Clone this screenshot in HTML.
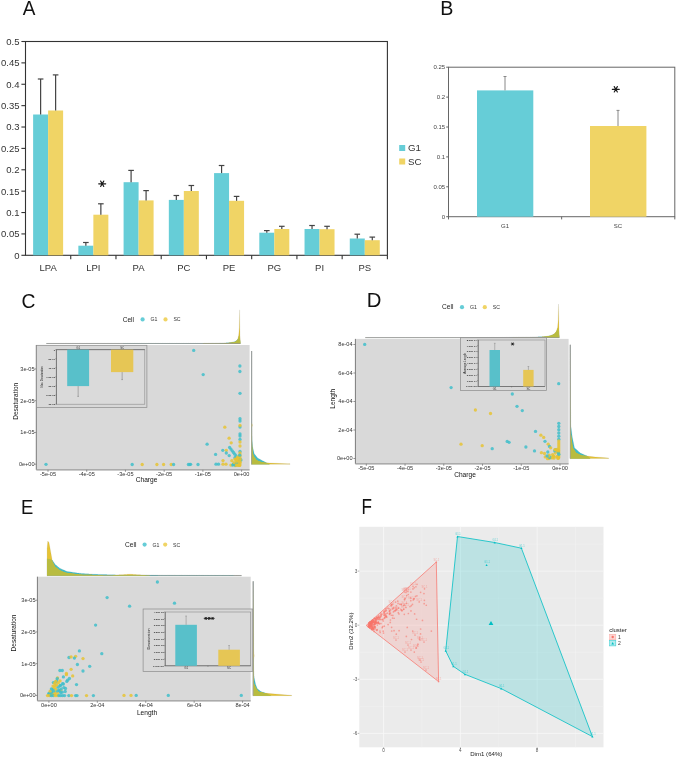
<!DOCTYPE html>
<html><head><meta charset="utf-8"><style>
html,body{margin:0;padding:0;background:#fff;}
svg{display:block;font-family:"Liberation Sans", sans-serif;will-change:transform;}
</style></head><body>
<svg width="676" height="759" viewBox="0 0 676 759">
<rect width="676" height="759" fill="#fff"/>
<text transform="translate(22.8 15.0) scale(0.95 1)" font-size="20" fill="#111">A</text>
<rect x="25.5" y="41.5" width="361.9" height="213.8" fill="none" stroke="#333" stroke-width="1.1"/>
<line x1="21.40" y1="255.30" x2="25.50" y2="255.30" stroke="#333" stroke-width="1.1" />
<text x="19.50" y="258.70" font-size="9.5" text-anchor="end" fill="#333" >0</text>
<line x1="21.40" y1="233.92" x2="25.50" y2="233.92" stroke="#333" stroke-width="1.1" />
<text x="19.50" y="237.32" font-size="9.5" text-anchor="end" fill="#333" >0.05</text>
<line x1="21.40" y1="212.54" x2="25.50" y2="212.54" stroke="#333" stroke-width="1.1" />
<text x="19.50" y="215.94" font-size="9.5" text-anchor="end" fill="#333" >0.1</text>
<line x1="21.40" y1="191.16" x2="25.50" y2="191.16" stroke="#333" stroke-width="1.1" />
<text x="19.50" y="194.56" font-size="9.5" text-anchor="end" fill="#333" >0.15</text>
<line x1="21.40" y1="169.78" x2="25.50" y2="169.78" stroke="#333" stroke-width="1.1" />
<text x="19.50" y="173.18" font-size="9.5" text-anchor="end" fill="#333" >0.2</text>
<line x1="21.40" y1="148.40" x2="25.50" y2="148.40" stroke="#333" stroke-width="1.1" />
<text x="19.50" y="151.80" font-size="9.5" text-anchor="end" fill="#333" >0.25</text>
<line x1="21.40" y1="127.02" x2="25.50" y2="127.02" stroke="#333" stroke-width="1.1" />
<text x="19.50" y="130.42" font-size="9.5" text-anchor="end" fill="#333" >0.3</text>
<line x1="21.40" y1="105.64" x2="25.50" y2="105.64" stroke="#333" stroke-width="1.1" />
<text x="19.50" y="109.04" font-size="9.5" text-anchor="end" fill="#333" >0.35</text>
<line x1="21.40" y1="84.26" x2="25.50" y2="84.26" stroke="#333" stroke-width="1.1" />
<text x="19.50" y="87.66" font-size="9.5" text-anchor="end" fill="#333" >0.4</text>
<line x1="21.40" y1="62.88" x2="25.50" y2="62.88" stroke="#333" stroke-width="1.1" />
<text x="19.50" y="66.28" font-size="9.5" text-anchor="end" fill="#333" >0.45</text>
<line x1="21.40" y1="41.50" x2="25.50" y2="41.50" stroke="#333" stroke-width="1.1" />
<text x="19.50" y="44.90" font-size="9.5" text-anchor="end" fill="#333" >0.5</text>
<line x1="70.74" y1="255.30" x2="70.74" y2="259.30" stroke="#333" stroke-width="1.1" />
<line x1="115.97" y1="255.30" x2="115.97" y2="259.30" stroke="#333" stroke-width="1.1" />
<line x1="161.21" y1="255.30" x2="161.21" y2="259.30" stroke="#333" stroke-width="1.1" />
<line x1="206.45" y1="255.30" x2="206.45" y2="259.30" stroke="#333" stroke-width="1.1" />
<line x1="251.69" y1="255.30" x2="251.69" y2="259.30" stroke="#333" stroke-width="1.1" />
<line x1="296.92" y1="255.30" x2="296.92" y2="259.30" stroke="#333" stroke-width="1.1" />
<line x1="342.16" y1="255.30" x2="342.16" y2="259.30" stroke="#333" stroke-width="1.1" />
<line x1="387.40" y1="255.30" x2="387.40" y2="259.30" stroke="#333" stroke-width="1.1" />
<rect x="33.12" y="114.50" width="15.00" height="140.80" fill="#66CDD7" />
<rect x="48.12" y="110.50" width="15.00" height="144.80" fill="#F0D465" />
<line x1="40.62" y1="79.00" x2="40.62" y2="114.50" stroke="#444" stroke-width="1.2" />
<line x1="37.82" y1="79.00" x2="43.42" y2="79.00" stroke="#444" stroke-width="1.2" />
<line x1="55.62" y1="74.90" x2="55.62" y2="110.50" stroke="#444" stroke-width="1.2" />
<line x1="52.82" y1="74.90" x2="58.42" y2="74.90" stroke="#444" stroke-width="1.2" />
<text x="48.12" y="271.30" font-size="9.5" text-anchor="middle" fill="#333" >LPA</text>
<rect x="78.36" y="245.70" width="15.00" height="9.60" fill="#66CDD7" />
<rect x="93.36" y="214.70" width="15.00" height="40.60" fill="#F0D465" />
<line x1="85.86" y1="242.50" x2="85.86" y2="245.70" stroke="#444" stroke-width="1.2" />
<line x1="83.06" y1="242.50" x2="88.66" y2="242.50" stroke="#444" stroke-width="1.2" />
<line x1="100.86" y1="203.80" x2="100.86" y2="214.70" stroke="#444" stroke-width="1.2" />
<line x1="98.06" y1="203.80" x2="103.66" y2="203.80" stroke="#444" stroke-width="1.2" />
<text x="93.36" y="271.30" font-size="9.5" text-anchor="middle" fill="#333" >LPI</text>
<rect x="123.59" y="182.20" width="15.00" height="73.10" fill="#66CDD7" />
<rect x="138.59" y="200.40" width="15.00" height="54.90" fill="#F0D465" />
<line x1="131.09" y1="170.40" x2="131.09" y2="182.20" stroke="#444" stroke-width="1.2" />
<line x1="128.29" y1="170.40" x2="133.89" y2="170.40" stroke="#444" stroke-width="1.2" />
<line x1="146.09" y1="190.60" x2="146.09" y2="200.40" stroke="#444" stroke-width="1.2" />
<line x1="143.29" y1="190.60" x2="148.89" y2="190.60" stroke="#444" stroke-width="1.2" />
<text x="138.59" y="271.30" font-size="9.5" text-anchor="middle" fill="#333" >PA</text>
<rect x="168.83" y="199.90" width="15.00" height="55.40" fill="#66CDD7" />
<rect x="183.83" y="191.00" width="15.00" height="64.30" fill="#F0D465" />
<line x1="176.33" y1="195.50" x2="176.33" y2="199.90" stroke="#444" stroke-width="1.2" />
<line x1="173.53" y1="195.50" x2="179.13" y2="195.50" stroke="#444" stroke-width="1.2" />
<line x1="191.33" y1="185.50" x2="191.33" y2="191.00" stroke="#444" stroke-width="1.2" />
<line x1="188.53" y1="185.50" x2="194.13" y2="185.50" stroke="#444" stroke-width="1.2" />
<text x="183.83" y="271.30" font-size="9.5" text-anchor="middle" fill="#333" >PC</text>
<rect x="214.07" y="173.10" width="15.00" height="82.20" fill="#66CDD7" />
<rect x="229.07" y="200.80" width="15.00" height="54.50" fill="#F0D465" />
<line x1="221.57" y1="165.50" x2="221.57" y2="173.10" stroke="#444" stroke-width="1.2" />
<line x1="218.77" y1="165.50" x2="224.37" y2="165.50" stroke="#444" stroke-width="1.2" />
<line x1="236.57" y1="196.40" x2="236.57" y2="200.80" stroke="#444" stroke-width="1.2" />
<line x1="233.77" y1="196.40" x2="239.37" y2="196.40" stroke="#444" stroke-width="1.2" />
<text x="229.07" y="271.30" font-size="9.5" text-anchor="middle" fill="#333" >PE</text>
<rect x="259.31" y="232.70" width="15.00" height="22.60" fill="#66CDD7" />
<rect x="274.31" y="229.00" width="15.00" height="26.30" fill="#F0D465" />
<line x1="266.81" y1="230.60" x2="266.81" y2="232.70" stroke="#444" stroke-width="1.2" />
<line x1="264.01" y1="230.60" x2="269.61" y2="230.60" stroke="#444" stroke-width="1.2" />
<line x1="281.81" y1="226.30" x2="281.81" y2="229.00" stroke="#444" stroke-width="1.2" />
<line x1="279.01" y1="226.30" x2="284.61" y2="226.30" stroke="#444" stroke-width="1.2" />
<text x="274.31" y="271.30" font-size="9.5" text-anchor="middle" fill="#333" >PG</text>
<rect x="304.54" y="229.00" width="15.00" height="26.30" fill="#66CDD7" />
<rect x="319.54" y="229.20" width="15.00" height="26.10" fill="#F0D465" />
<line x1="312.04" y1="225.50" x2="312.04" y2="229.00" stroke="#444" stroke-width="1.2" />
<line x1="309.24" y1="225.50" x2="314.84" y2="225.50" stroke="#444" stroke-width="1.2" />
<line x1="327.04" y1="226.30" x2="327.04" y2="229.20" stroke="#444" stroke-width="1.2" />
<line x1="324.24" y1="226.30" x2="329.84" y2="226.30" stroke="#444" stroke-width="1.2" />
<text x="319.54" y="271.30" font-size="9.5" text-anchor="middle" fill="#333" >PI</text>
<rect x="349.78" y="238.50" width="15.00" height="16.80" fill="#66CDD7" />
<rect x="364.78" y="240.20" width="15.00" height="15.10" fill="#F0D465" />
<line x1="357.28" y1="234.20" x2="357.28" y2="238.50" stroke="#444" stroke-width="1.2" />
<line x1="354.48" y1="234.20" x2="360.08" y2="234.20" stroke="#444" stroke-width="1.2" />
<line x1="372.28" y1="237.10" x2="372.28" y2="240.20" stroke="#444" stroke-width="1.2" />
<line x1="369.48" y1="237.10" x2="375.08" y2="237.10" stroke="#444" stroke-width="1.2" />
<text x="364.78" y="271.30" font-size="9.5" text-anchor="middle" fill="#333" >PS</text>
<path d="M98.70,183.80L105.70,183.80 M100.65,181.12L103.75,186.48 M103.75,181.12L100.65,186.48" stroke="#1a1a1a" stroke-width="1.15" stroke-linecap="round" fill="none"/>
<rect x="399.20" y="145.00" width="6.00" height="6.00" fill="#66CDD7" />
<rect x="399.20" y="158.50" width="6.00" height="6.00" fill="#F0D465" />
<text x="408.00" y="151.30" font-size="9.7" text-anchor="start" fill="#333" >G1</text>
<text x="408.00" y="165.00" font-size="9.7" text-anchor="start" fill="#333" >SC</text>
<text transform="translate(440.2 14.8) scale(1 1)" font-size="19.7" fill="#111">B</text>
<rect x="448.5" y="67.2" width="226.29999999999995" height="149.5" fill="none" stroke="#666" stroke-width="1"/>
<line x1="446.20" y1="216.70" x2="448.50" y2="216.70" stroke="#666" stroke-width="1" />
<text x="445.20" y="218.90" font-size="6" text-anchor="end" fill="#444" >0</text>
<line x1="446.20" y1="186.80" x2="448.50" y2="186.80" stroke="#666" stroke-width="1" />
<text x="445.20" y="189.00" font-size="6" text-anchor="end" fill="#444" >0.05</text>
<line x1="446.20" y1="156.90" x2="448.50" y2="156.90" stroke="#666" stroke-width="1" />
<text x="445.20" y="159.10" font-size="6" text-anchor="end" fill="#444" >0.1</text>
<line x1="446.20" y1="127.00" x2="448.50" y2="127.00" stroke="#666" stroke-width="1" />
<text x="445.20" y="129.20" font-size="6" text-anchor="end" fill="#444" >0.15</text>
<line x1="446.20" y1="97.10" x2="448.50" y2="97.10" stroke="#666" stroke-width="1" />
<text x="445.20" y="99.30" font-size="6" text-anchor="end" fill="#444" >0.2</text>
<line x1="446.20" y1="67.20" x2="448.50" y2="67.20" stroke="#666" stroke-width="1" />
<text x="445.20" y="69.40" font-size="6" text-anchor="end" fill="#444" >0.25</text>
<line x1="448.50" y1="216.70" x2="448.50" y2="219.40" stroke="#666" stroke-width="1" />
<line x1="561.65" y1="216.70" x2="561.65" y2="219.40" stroke="#666" stroke-width="1" />
<line x1="674.80" y1="216.70" x2="674.80" y2="219.40" stroke="#666" stroke-width="1" />
<rect x="477.00" y="90.40" width="56.30" height="126.30" fill="#66CDD7" />
<rect x="590.00" y="126.00" width="56.40" height="90.70" fill="#F0D465" />
<line x1="505.00" y1="76.50" x2="505.00" y2="90.40" stroke="#888" stroke-width="1" />
<line x1="503.50" y1="76.50" x2="506.50" y2="76.50" stroke="#888" stroke-width="1" />
<line x1="618.00" y1="110.40" x2="618.00" y2="126.00" stroke="#888" stroke-width="1" />
<line x1="616.50" y1="110.40" x2="619.50" y2="110.40" stroke="#888" stroke-width="1" />
<text x="505.00" y="227.80" font-size="6" text-anchor="middle" fill="#444" >G1</text>
<text x="618.00" y="227.80" font-size="6" text-anchor="middle" fill="#444" >SC</text>
<path d="M612.30,89.30L619.30,89.30 M614.25,86.62L617.35,91.98 M617.35,86.62L614.25,91.98" stroke="#1a1a1a" stroke-width="1.15" stroke-linecap="round" fill="none"/>
<text transform="translate(21.5 307.7) scale(0.92 1)" font-size="21" fill="#111">C</text>
<rect x="36.30" y="345.00" width="213.30" height="124.80" fill="#D9D9D9" />
<polygon points="46.40,343.50 46.40,343.40 47.10,343.40 47.80,343.40 48.50,343.40 49.20,343.40 49.90,343.40 50.60,343.40 51.30,343.40 52.00,343.40 52.70,343.40 53.40,343.40 54.10,343.40 54.80,343.40 55.50,343.40 56.20,343.40 56.90,343.40 57.60,343.40 58.30,343.40 59.00,343.40 59.70,343.40 60.40,343.40 61.10,343.40 61.80,343.39 62.50,343.39 63.20,343.39 63.90,343.39 64.60,343.39 65.30,343.39 66.00,343.39 66.70,343.39 67.40,343.39 68.10,343.39 68.80,343.39 69.50,343.39 70.20,343.39 70.90,343.39 71.60,343.39 72.30,343.39 73.00,343.39 73.70,343.39 74.40,343.39 75.10,343.39 75.80,343.39 76.50,343.39 77.20,343.39 77.90,343.39 78.60,343.39 79.30,343.39 80.00,343.39 80.70,343.39 81.40,343.39 82.10,343.39 82.80,343.39 83.50,343.39 84.20,343.39 84.90,343.39 85.60,343.39 86.30,343.39 87.00,343.39 87.70,343.39 88.40,343.39 89.10,343.39 89.80,343.39 90.50,343.39 91.20,343.39 91.90,343.39 92.60,343.38 93.30,343.38 94.00,343.38 94.70,343.38 95.40,343.38 96.10,343.38 96.80,343.38 97.50,343.38 98.20,343.38 98.90,343.38 99.60,343.38 100.30,343.38 101.00,343.38 101.70,343.38 102.40,343.38 103.10,343.38 103.80,343.38 104.50,343.38 105.20,343.38 105.90,343.38 106.60,343.38 107.30,343.38 108.00,343.38 108.70,343.38 109.40,343.38 110.10,343.38 110.80,343.38 111.50,343.38 112.20,343.38 112.90,343.38 113.60,343.38 114.30,343.38 115.00,343.38 115.70,343.38 116.40,343.38 117.10,343.38 117.80,343.38 118.50,343.38 119.20,343.38 119.90,343.38 120.60,343.38 121.30,343.38 122.00,343.38 122.70,343.38 123.40,343.37 124.10,343.37 124.80,343.37 125.50,343.37 126.20,343.37 126.90,343.37 127.60,343.37 128.30,343.37 129.00,343.37 129.70,343.37 130.40,343.37 131.10,343.37 131.80,343.37 132.50,343.37 133.20,343.37 133.90,343.37 134.60,343.37 135.30,343.37 136.00,343.37 136.70,343.37 137.40,343.37 138.10,343.37 138.80,343.37 139.50,343.37 140.20,343.37 140.90,343.37 141.60,343.37 142.30,343.37 143.00,343.37 143.70,343.37 144.40,343.37 145.10,343.37 145.80,343.37 146.50,343.37 147.20,343.37 147.90,343.37 148.60,343.37 149.30,343.37 150.00,343.37 150.70,343.37 151.40,343.37 152.10,343.37 152.80,343.37 153.50,343.37 154.20,343.36 154.90,343.36 155.60,343.36 156.30,343.36 157.00,343.36 157.70,343.36 158.40,343.36 159.10,343.36 159.80,343.36 160.50,343.36 161.20,343.36 161.90,343.36 162.60,343.36 163.30,343.36 164.00,343.36 164.70,343.36 165.40,343.36 166.10,343.36 166.80,343.36 167.50,343.36 168.20,343.36 168.90,343.36 169.60,343.36 170.30,343.36 171.00,343.36 171.70,343.36 172.40,343.36 173.10,343.36 173.80,343.36 174.50,343.36 175.20,343.36 175.90,343.36 176.60,343.36 177.30,343.36 178.00,343.36 178.70,343.36 179.40,343.36 180.10,343.36 180.80,343.36 181.50,343.36 182.20,343.36 182.90,343.36 183.60,343.36 184.30,343.36 185.00,343.35 185.70,343.35 186.40,343.35 187.10,343.35 187.80,343.35 188.50,343.35 189.20,343.35 189.90,343.35 190.60,343.35 191.30,343.35 192.00,343.35 192.70,343.35 193.40,343.35 194.10,343.35 194.80,343.35 195.50,343.35 196.20,343.35 196.90,343.35 197.60,343.35 198.30,343.35 199.00,343.35 199.70,343.35 200.00,343.35 200.40,343.35 201.10,343.34 201.80,343.33 202.50,343.32 203.20,343.31 203.90,343.31 204.60,343.30 205.30,343.29 206.00,343.28 206.70,343.27 207.40,343.27 208.10,343.26 208.80,343.25 209.50,343.24 210.20,343.23 210.90,343.23 211.60,343.22 212.30,343.21 213.00,343.20 213.70,343.19 214.40,343.19 215.10,343.18 215.80,343.17 216.50,343.16 217.20,343.15 217.90,343.15 218.60,343.14 219.30,343.13 220.00,343.12 220.70,343.11 221.40,343.11 222.00,343.10 222.10,343.09 222.80,343.05 223.50,343.01 224.20,342.96 224.90,342.92 225.60,342.88 226.30,342.83 227.00,342.79 227.70,342.74 228.40,342.70 229.10,342.66 229.80,342.61 230.00,342.60 230.50,342.50 231.20,342.36 231.90,342.22 232.60,342.08 233.30,341.94 234.00,341.80 234.50,341.70 234.70,341.59 235.00,341.42 235.40,341.20 236.10,340.80 236.80,340.41 237.00,340.30 237.50,339.53 237.50,339.53 238.20,338.46 238.50,338.00 238.70,337.13 238.90,336.25 239.30,334.50 239.60,336.64 239.60,336.64 239.90,338.79 240.00,339.50 240.10,340.50 240.30,342.50 240.40,343.50 240.40,343.50" fill="#40BECA" stroke="#4a6a6a" stroke-width="0.3" stroke-opacity="0.35"/>
<polygon points="46.40,343.50 46.40,343.45 47.10,343.45 47.80,343.45 48.50,343.45 49.20,343.45 49.90,343.45 50.60,343.45 51.30,343.45 52.00,343.45 52.70,343.45 53.40,343.45 54.10,343.45 54.80,343.45 55.50,343.45 56.20,343.45 56.90,343.45 57.60,343.45 58.30,343.45 59.00,343.45 59.70,343.45 60.40,343.45 61.10,343.45 61.80,343.44 62.50,343.44 63.20,343.44 63.90,343.44 64.60,343.44 65.30,343.44 66.00,343.44 66.70,343.44 67.40,343.44 68.10,343.44 68.80,343.44 69.50,343.44 70.20,343.44 70.90,343.44 71.60,343.44 72.30,343.44 73.00,343.44 73.70,343.44 74.40,343.44 75.10,343.44 75.80,343.44 76.50,343.44 77.20,343.44 77.90,343.44 78.60,343.44 79.30,343.44 80.00,343.44 80.70,343.44 81.40,343.44 82.10,343.44 82.80,343.44 83.50,343.44 84.20,343.44 84.90,343.44 85.60,343.44 86.30,343.44 87.00,343.44 87.70,343.44 88.40,343.44 89.10,343.44 89.80,343.44 90.50,343.44 91.20,343.44 91.90,343.44 92.60,343.43 93.30,343.43 94.00,343.43 94.70,343.43 95.40,343.43 96.10,343.43 96.80,343.43 97.50,343.43 98.20,343.43 98.90,343.43 99.60,343.43 100.30,343.43 101.00,343.43 101.70,343.43 102.40,343.43 103.10,343.43 103.80,343.43 104.50,343.43 105.20,343.43 105.90,343.43 106.60,343.43 107.30,343.43 108.00,343.43 108.70,343.43 109.40,343.43 110.10,343.43 110.80,343.43 111.50,343.43 112.20,343.43 112.90,343.43 113.60,343.43 114.30,343.43 115.00,343.43 115.70,343.43 116.40,343.43 117.10,343.43 117.80,343.43 118.50,343.43 119.20,343.43 119.90,343.43 120.60,343.43 121.30,343.43 122.00,343.43 122.70,343.43 123.40,343.42 124.10,343.42 124.80,343.42 125.50,343.42 126.20,343.42 126.90,343.42 127.60,343.42 128.30,343.42 129.00,343.42 129.70,343.42 130.40,343.42 131.10,343.42 131.80,343.42 132.50,343.42 133.20,343.42 133.90,343.42 134.60,343.42 135.30,343.42 136.00,343.42 136.70,343.42 137.40,343.42 138.10,343.42 138.80,343.42 139.50,343.42 140.20,343.42 140.90,343.42 141.60,343.42 142.30,343.42 143.00,343.42 143.70,343.42 144.40,343.42 145.10,343.42 145.80,343.42 146.50,343.42 147.20,343.42 147.90,343.42 148.60,343.42 149.30,343.42 150.00,343.42 150.70,343.42 151.40,343.42 152.10,343.42 152.80,343.42 153.50,343.42 154.20,343.41 154.90,343.41 155.60,343.41 156.30,343.41 157.00,343.41 157.70,343.41 158.40,343.41 159.10,343.41 159.80,343.41 160.50,343.41 161.20,343.41 161.90,343.41 162.60,343.41 163.30,343.41 164.00,343.41 164.70,343.41 165.40,343.41 166.10,343.41 166.80,343.41 167.50,343.41 168.20,343.41 168.90,343.41 169.60,343.41 170.30,343.41 171.00,343.41 171.70,343.41 172.40,343.41 173.10,343.41 173.80,343.41 174.50,343.41 175.20,343.41 175.90,343.41 176.60,343.41 177.30,343.41 178.00,343.41 178.70,343.41 179.40,343.41 180.10,343.41 180.80,343.41 181.50,343.41 182.20,343.41 182.90,343.41 183.60,343.41 184.30,343.41 185.00,343.40 185.70,343.40 186.40,343.40 187.10,343.40 187.80,343.40 188.50,343.40 189.20,343.40 189.90,343.40 190.60,343.40 191.30,343.40 192.00,343.40 192.70,343.40 193.40,343.40 194.10,343.40 194.80,343.40 195.50,343.40 196.20,343.40 196.90,343.40 197.60,343.40 198.30,343.40 199.00,343.40 199.70,343.40 200.00,343.40 200.40,343.40 201.10,343.39 201.80,343.38 202.50,343.38 203.20,343.37 203.90,343.36 204.60,343.36 205.30,343.35 206.00,343.35 206.70,343.34 207.40,343.33 208.10,343.33 208.80,343.32 209.50,343.31 210.20,343.31 210.90,343.30 211.60,343.29 212.30,343.29 213.00,343.28 213.70,343.28 214.40,343.27 215.10,343.26 215.80,343.26 216.50,343.25 217.20,343.24 217.90,343.24 218.60,343.23 219.30,343.22 220.00,343.22 220.70,343.21 221.40,343.21 222.00,343.20 222.10,343.20 222.80,343.16 223.50,343.13 224.20,343.09 224.90,343.06 225.60,343.02 226.30,342.99 227.00,342.95 227.70,342.92 228.40,342.88 229.10,342.85 229.80,342.81 230.00,342.80 230.50,342.72 231.20,342.61 231.90,342.50 232.60,342.38 233.30,342.27 234.00,342.16 234.50,342.08 234.70,342.05 235.00,342.00 235.40,341.68 236.10,341.12 236.80,340.56 237.00,340.40 237.50,340.00 237.50,340.00 238.20,337.38 238.50,336.25 238.70,335.50 238.90,332.83 239.30,327.50 239.60,309.80 239.60,309.80 239.90,329.50 240.00,334.00 240.10,338.50 240.30,341.83 240.40,343.50 240.40,343.50" fill="#E6C334" stroke="#6a6a4a" stroke-width="0.3" stroke-opacity="0.35"/>
<polygon points="46.40,343.50 46.40,343.45 47.10,343.45 47.80,343.45 48.50,343.45 49.20,343.45 49.90,343.45 50.60,343.45 51.30,343.45 52.00,343.45 52.70,343.45 53.40,343.45 54.10,343.45 54.80,343.45 55.50,343.45 56.20,343.45 56.90,343.45 57.60,343.45 58.30,343.45 59.00,343.45 59.70,343.45 60.40,343.45 61.10,343.45 61.80,343.44 62.50,343.44 63.20,343.44 63.90,343.44 64.60,343.44 65.30,343.44 66.00,343.44 66.70,343.44 67.40,343.44 68.10,343.44 68.80,343.44 69.50,343.44 70.20,343.44 70.90,343.44 71.60,343.44 72.30,343.44 73.00,343.44 73.70,343.44 74.40,343.44 75.10,343.44 75.80,343.44 76.50,343.44 77.20,343.44 77.90,343.44 78.60,343.44 79.30,343.44 80.00,343.44 80.70,343.44 81.40,343.44 82.10,343.44 82.80,343.44 83.50,343.44 84.20,343.44 84.90,343.44 85.60,343.44 86.30,343.44 87.00,343.44 87.70,343.44 88.40,343.44 89.10,343.44 89.80,343.44 90.50,343.44 91.20,343.44 91.90,343.44 92.60,343.43 93.30,343.43 94.00,343.43 94.70,343.43 95.40,343.43 96.10,343.43 96.80,343.43 97.50,343.43 98.20,343.43 98.90,343.43 99.60,343.43 100.30,343.43 101.00,343.43 101.70,343.43 102.40,343.43 103.10,343.43 103.80,343.43 104.50,343.43 105.20,343.43 105.90,343.43 106.60,343.43 107.30,343.43 108.00,343.43 108.70,343.43 109.40,343.43 110.10,343.43 110.80,343.43 111.50,343.43 112.20,343.43 112.90,343.43 113.60,343.43 114.30,343.43 115.00,343.43 115.70,343.43 116.40,343.43 117.10,343.43 117.80,343.43 118.50,343.43 119.20,343.43 119.90,343.43 120.60,343.43 121.30,343.43 122.00,343.43 122.70,343.43 123.40,343.42 124.10,343.42 124.80,343.42 125.50,343.42 126.20,343.42 126.90,343.42 127.60,343.42 128.30,343.42 129.00,343.42 129.70,343.42 130.40,343.42 131.10,343.42 131.80,343.42 132.50,343.42 133.20,343.42 133.90,343.42 134.60,343.42 135.30,343.42 136.00,343.42 136.70,343.42 137.40,343.42 138.10,343.42 138.80,343.42 139.50,343.42 140.20,343.42 140.90,343.42 141.60,343.42 142.30,343.42 143.00,343.42 143.70,343.42 144.40,343.42 145.10,343.42 145.80,343.42 146.50,343.42 147.20,343.42 147.90,343.42 148.60,343.42 149.30,343.42 150.00,343.42 150.70,343.42 151.40,343.42 152.10,343.42 152.80,343.42 153.50,343.42 154.20,343.41 154.90,343.41 155.60,343.41 156.30,343.41 157.00,343.41 157.70,343.41 158.40,343.41 159.10,343.41 159.80,343.41 160.50,343.41 161.20,343.41 161.90,343.41 162.60,343.41 163.30,343.41 164.00,343.41 164.70,343.41 165.40,343.41 166.10,343.41 166.80,343.41 167.50,343.41 168.20,343.41 168.90,343.41 169.60,343.41 170.30,343.41 171.00,343.41 171.70,343.41 172.40,343.41 173.10,343.41 173.80,343.41 174.50,343.41 175.20,343.41 175.90,343.41 176.60,343.41 177.30,343.41 178.00,343.41 178.70,343.41 179.40,343.41 180.10,343.41 180.80,343.41 181.50,343.41 182.20,343.41 182.90,343.41 183.60,343.41 184.30,343.41 185.00,343.40 185.70,343.40 186.40,343.40 187.10,343.40 187.80,343.40 188.50,343.40 189.20,343.40 189.90,343.40 190.60,343.40 191.30,343.40 192.00,343.40 192.70,343.40 193.40,343.40 194.10,343.40 194.80,343.40 195.50,343.40 196.20,343.40 196.90,343.40 197.60,343.40 198.30,343.40 199.00,343.40 199.70,343.40 200.00,343.40 200.40,343.40 201.10,343.39 201.80,343.38 202.50,343.38 203.20,343.37 203.90,343.36 204.60,343.36 205.30,343.35 206.00,343.35 206.70,343.34 207.40,343.33 208.10,343.33 208.80,343.32 209.50,343.31 210.20,343.31 210.90,343.30 211.60,343.29 212.30,343.29 213.00,343.28 213.70,343.28 214.40,343.27 215.10,343.26 215.80,343.26 216.50,343.25 217.20,343.24 217.90,343.24 218.60,343.23 219.30,343.22 220.00,343.22 220.70,343.21 221.40,343.21 222.00,343.20 222.10,343.20 222.80,343.16 223.50,343.13 224.20,343.09 224.90,343.06 225.60,343.02 226.30,342.99 227.00,342.95 227.70,342.92 228.40,342.88 229.10,342.85 229.80,342.81 230.00,342.80 230.50,342.72 231.20,342.61 231.90,342.50 232.60,342.38 233.30,342.27 234.00,342.16 234.50,342.08 234.70,342.05 235.00,342.00 235.40,341.68 236.10,341.12 236.80,340.56 237.00,340.40 237.50,340.00 237.50,340.00 238.20,338.46 238.50,338.00 238.70,337.13 238.90,336.25 239.30,334.50 239.60,336.64 239.60,336.64 239.90,338.79 240.00,339.50 240.10,340.50 240.30,342.50 240.40,343.50 240.40,343.50" fill="#B8BC40"/>
<line x1="46.40" y1="343.50" x2="240.40" y2="343.50" stroke="#8a8a8a" stroke-width="0.6" />
<line x1="251.60" y1="351.00" x2="251.60" y2="464.30" stroke="#a0a0a0" stroke-width="0.7" />
<polygon points="251.60,351.00 251.70,351.00 251.70,351.70 251.70,352.40 251.70,353.10 251.70,353.80 251.71,354.50 251.71,355.20 251.71,355.90 251.71,356.60 251.71,357.30 251.71,358.00 251.71,358.70 251.71,359.40 251.71,360.10 251.71,360.80 251.72,361.50 251.72,362.20 251.72,362.90 251.72,363.60 251.72,364.30 251.72,365.00 251.72,365.70 251.72,366.40 251.72,367.10 251.72,367.80 251.73,368.50 251.73,369.20 251.73,369.90 251.73,370.60 251.73,371.30 251.73,372.00 251.73,372.70 251.73,373.40 251.73,374.10 251.73,374.80 251.74,375.50 251.74,376.20 251.74,376.90 251.74,377.60 251.74,378.30 251.74,379.00 251.74,379.70 251.74,380.40 251.74,381.10 251.74,381.80 251.75,382.50 251.75,383.20 251.75,383.90 251.75,384.60 251.75,385.30 251.75,386.00 251.75,386.70 251.75,387.40 251.75,388.10 251.75,388.80 251.76,389.50 251.76,390.20 251.76,390.90 251.76,391.60 251.76,392.30 251.76,393.00 251.76,393.70 251.76,394.40 251.76,395.10 251.76,395.80 251.77,396.50 251.77,397.20 251.77,397.90 251.77,398.60 251.77,399.30 251.77,400.00 251.77,400.70 251.77,401.40 251.77,402.10 251.78,402.80 251.78,403.50 251.78,404.20 251.78,404.90 251.78,405.60 251.78,406.30 251.78,407.00 251.78,407.70 251.78,408.40 251.78,409.10 251.79,409.80 251.79,410.50 251.79,411.20 251.79,411.90 251.79,412.60 251.79,413.30 251.79,414.00 251.79,414.70 251.79,415.40 251.79,416.10 251.80,416.80 251.80,417.50 251.80,418.20 251.80,418.90 251.80,419.60 251.80,420.00 251.80,420.30 251.81,421.00 251.83,421.70 251.84,422.40 251.84,423.00 251.85,423.10 251.86,423.80 251.87,424.50 251.88,425.00 251.88,425.20 251.89,425.90 251.90,426.60 251.91,427.30 251.92,428.00 251.92,428.00 251.93,428.70 251.94,429.40 251.95,430.10 251.96,430.80 251.97,431.50 251.98,432.20 251.99,432.90 252.00,433.60 252.01,434.30 252.02,435.00 252.04,435.70 252.05,436.40 252.06,437.10 252.07,437.80 252.08,438.50 252.09,439.20 252.10,439.90 252.10,440.00 252.15,440.60 252.20,441.30 252.25,442.00 252.30,442.70 252.36,443.40 252.41,444.10 252.46,444.80 252.48,445.00 252.52,445.50 252.57,446.20 252.60,446.60 252.67,446.90 252.84,447.60 253.00,448.30 253.17,449.00 253.33,449.70 253.50,450.40 253.66,451.10 253.83,451.80 253.88,452.00 253.99,452.50 254.16,453.20 254.30,453.80 254.38,453.90 254.95,454.60 255.53,455.30 256.10,456.00 256.10,456.00 256.67,456.70 257.25,457.40 257.82,458.10 257.90,458.20 259.04,458.80 260.36,459.50 261.31,460.00 261.69,460.20 263.01,460.90 263.20,461.00 264.28,461.60 265.00,462.00 265.54,462.30 266.44,462.80 266.80,463.00 266.80,463.00 267.45,463.30 268.31,463.70 268.52,463.80 269.60,464.30 251.60,464.30" fill="#40BECA" stroke="#4a6a6a" stroke-width="0.3" stroke-opacity="0.35"/>
<polygon points="251.60,351.00 251.60,351.00 251.60,351.70 251.60,352.40 251.60,353.10 251.60,353.80 251.60,354.50 251.60,355.20 251.60,355.90 251.60,356.60 251.60,357.30 251.60,358.00 251.60,358.70 251.60,359.40 251.60,360.10 251.60,360.80 251.60,361.50 251.60,362.20 251.60,362.90 251.60,363.60 251.60,364.30 251.60,365.00 251.60,365.70 251.60,366.40 251.60,367.10 251.60,367.80 251.60,368.50 251.60,369.20 251.60,369.90 251.60,370.60 251.60,371.30 251.60,372.00 251.60,372.70 251.60,373.40 251.60,374.10 251.60,374.80 251.60,375.50 251.60,376.20 251.60,376.90 251.60,377.60 251.60,378.30 251.60,379.00 251.60,379.70 251.60,380.40 251.60,381.10 251.60,381.80 251.60,382.50 251.60,383.20 251.60,383.90 251.60,384.60 251.60,385.30 251.60,386.00 251.60,386.70 251.60,387.40 251.60,388.10 251.60,388.80 251.60,389.50 251.60,390.20 251.60,390.90 251.60,391.60 251.60,392.30 251.60,393.00 251.60,393.70 251.60,394.40 251.60,395.10 251.60,395.80 251.60,396.50 251.60,397.20 251.60,397.90 251.60,398.60 251.60,399.30 251.60,400.00 251.60,400.70 251.60,401.40 251.60,402.10 251.60,402.80 251.60,403.50 251.60,404.20 251.60,404.90 251.60,405.60 251.60,406.30 251.60,407.00 251.60,407.70 251.60,408.40 251.60,409.10 251.60,409.80 251.60,410.50 251.60,411.20 251.60,411.90 251.60,412.60 251.60,413.30 251.60,414.00 251.60,414.70 251.60,415.40 251.60,416.10 251.60,416.80 251.60,417.50 251.60,418.20 251.60,418.90 251.60,419.60 251.60,420.00 251.60,420.30 251.60,421.00 251.60,421.70 251.60,422.40 251.60,423.00 251.64,423.10 251.92,423.80 252.20,424.50 252.40,425.00 252.35,425.20 252.19,425.90 252.03,426.60 251.86,427.30 251.70,428.00 251.70,428.00 251.72,428.70 251.73,429.40 251.75,430.10 251.77,430.80 251.78,431.50 251.80,432.20 251.82,432.90 251.83,433.60 251.85,434.30 251.86,435.00 251.88,435.70 251.90,436.40 251.91,437.10 251.93,437.80 251.95,438.50 251.96,439.20 251.98,439.90 251.98,440.00 252.00,440.60 252.01,441.30 252.03,442.00 252.05,442.70 252.06,443.40 252.08,444.10 252.10,444.80 252.10,445.00 252.14,445.50 252.19,446.20 252.21,446.60 252.24,446.90 252.29,447.60 252.34,448.30 252.39,449.00 252.44,449.70 252.49,450.40 252.54,451.10 252.59,451.80 252.60,452.00 252.72,452.50 252.90,453.20 253.05,453.80 253.07,453.90 253.25,454.60 253.42,455.30 253.60,456.00 253.60,456.00 254.11,456.70 254.61,457.40 255.12,458.10 255.19,458.20 255.63,458.80 256.14,459.50 256.50,460.00 256.95,460.20 258.52,460.90 258.75,461.00 260.10,461.60 261.00,462.00 262.72,462.30 265.60,462.80 270.00,463.00 270.00,463.00 276.60,463.30 287.40,463.70 290.10,463.80 290.10,464.30 251.60,464.30" fill="#E6C334" stroke="#6a6a4a" stroke-width="0.3" stroke-opacity="0.35"/>
<polygon points="251.60,351.00 251.60,351.00 251.60,351.70 251.60,352.40 251.60,353.10 251.60,353.80 251.60,354.50 251.60,355.20 251.60,355.90 251.60,356.60 251.60,357.30 251.60,358.00 251.60,358.70 251.60,359.40 251.60,360.10 251.60,360.80 251.60,361.50 251.60,362.20 251.60,362.90 251.60,363.60 251.60,364.30 251.60,365.00 251.60,365.70 251.60,366.40 251.60,367.10 251.60,367.80 251.60,368.50 251.60,369.20 251.60,369.90 251.60,370.60 251.60,371.30 251.60,372.00 251.60,372.70 251.60,373.40 251.60,374.10 251.60,374.80 251.60,375.50 251.60,376.20 251.60,376.90 251.60,377.60 251.60,378.30 251.60,379.00 251.60,379.70 251.60,380.40 251.60,381.10 251.60,381.80 251.60,382.50 251.60,383.20 251.60,383.90 251.60,384.60 251.60,385.30 251.60,386.00 251.60,386.70 251.60,387.40 251.60,388.10 251.60,388.80 251.60,389.50 251.60,390.20 251.60,390.90 251.60,391.60 251.60,392.30 251.60,393.00 251.60,393.70 251.60,394.40 251.60,395.10 251.60,395.80 251.60,396.50 251.60,397.20 251.60,397.90 251.60,398.60 251.60,399.30 251.60,400.00 251.60,400.70 251.60,401.40 251.60,402.10 251.60,402.80 251.60,403.50 251.60,404.20 251.60,404.90 251.60,405.60 251.60,406.30 251.60,407.00 251.60,407.70 251.60,408.40 251.60,409.10 251.60,409.80 251.60,410.50 251.60,411.20 251.60,411.90 251.60,412.60 251.60,413.30 251.60,414.00 251.60,414.70 251.60,415.40 251.60,416.10 251.60,416.80 251.60,417.50 251.60,418.20 251.60,418.90 251.60,419.60 251.60,420.00 251.60,420.30 251.60,421.00 251.60,421.70 251.60,422.40 251.60,423.00 251.64,423.10 251.86,423.80 251.87,424.50 251.88,425.00 251.88,425.20 251.89,425.90 251.90,426.60 251.86,427.30 251.70,428.00 251.70,428.00 251.72,428.70 251.73,429.40 251.75,430.10 251.77,430.80 251.78,431.50 251.80,432.20 251.82,432.90 251.83,433.60 251.85,434.30 251.86,435.00 251.88,435.70 251.90,436.40 251.91,437.10 251.93,437.80 251.95,438.50 251.96,439.20 251.98,439.90 251.98,440.00 252.00,440.60 252.01,441.30 252.03,442.00 252.05,442.70 252.06,443.40 252.08,444.10 252.10,444.80 252.10,445.00 252.14,445.50 252.19,446.20 252.21,446.60 252.24,446.90 252.29,447.60 252.34,448.30 252.39,449.00 252.44,449.70 252.49,450.40 252.54,451.10 252.59,451.80 252.60,452.00 252.72,452.50 252.90,453.20 253.05,453.80 253.07,453.90 253.25,454.60 253.42,455.30 253.60,456.00 253.60,456.00 254.11,456.70 254.61,457.40 255.12,458.10 255.19,458.20 255.63,458.80 256.14,459.50 256.50,460.00 256.95,460.20 258.52,460.90 258.75,461.00 260.10,461.60 261.00,462.00 262.72,462.30 265.60,462.80 266.80,463.00 266.80,463.00 267.45,463.30 268.31,463.70 268.52,463.80 269.60,464.30 251.60,464.30" fill="#B8BC40"/>
<line x1="251.60" y1="351.00" x2="251.60" y2="464.30" stroke="#a0a0a0" stroke-width="0.7"/>
<line x1="36.30" y1="345.00" x2="36.30" y2="469.80" stroke="#7a7a7a" stroke-width="1.0" />
<line x1="36.30" y1="469.80" x2="249.60" y2="469.80" stroke="#9a9a9a" stroke-width="1.2" />
<line x1="34.30" y1="464.20" x2="36.30" y2="464.20" stroke="#7a7a7a" stroke-width="0.8" />
<text x="34.60" y="466.10" font-size="5.6" text-anchor="end" fill="#333" >0e+00</text>
<line x1="34.30" y1="432.45" x2="36.30" y2="432.45" stroke="#7a7a7a" stroke-width="0.8" />
<text x="34.60" y="434.35" font-size="5.6" text-anchor="end" fill="#333" >1e-05</text>
<line x1="34.30" y1="400.70" x2="36.30" y2="400.70" stroke="#7a7a7a" stroke-width="0.8" />
<text x="34.60" y="402.60" font-size="5.6" text-anchor="end" fill="#333" >2e-05</text>
<line x1="34.30" y1="368.95" x2="36.30" y2="368.95" stroke="#7a7a7a" stroke-width="0.8" />
<text x="34.60" y="370.85" font-size="5.6" text-anchor="end" fill="#333" >3e-05</text>
<line x1="48.00" y1="469.80" x2="48.00" y2="471.80" stroke="#7a7a7a" stroke-width="0.8" />
<text x="48.00" y="476.20" font-size="5.6" text-anchor="middle" fill="#333" >-5e-05</text>
<line x1="86.72" y1="469.80" x2="86.72" y2="471.80" stroke="#7a7a7a" stroke-width="0.8" />
<text x="86.72" y="476.20" font-size="5.6" text-anchor="middle" fill="#333" >-4e-05</text>
<line x1="125.44" y1="469.80" x2="125.44" y2="471.80" stroke="#7a7a7a" stroke-width="0.8" />
<text x="125.44" y="476.20" font-size="5.6" text-anchor="middle" fill="#333" >-3e-05</text>
<line x1="164.16" y1="469.80" x2="164.16" y2="471.80" stroke="#7a7a7a" stroke-width="0.8" />
<text x="164.16" y="476.20" font-size="5.6" text-anchor="middle" fill="#333" >-2e-05</text>
<line x1="202.88" y1="469.80" x2="202.88" y2="471.80" stroke="#7a7a7a" stroke-width="0.8" />
<text x="202.88" y="476.20" font-size="5.6" text-anchor="middle" fill="#333" >-1e-05</text>
<line x1="241.60" y1="469.80" x2="241.60" y2="471.80" stroke="#7a7a7a" stroke-width="0.8" />
<text x="241.60" y="476.20" font-size="5.6" text-anchor="middle" fill="#333" >0e+00</text>
<text x="146.60" y="481.80" font-size="6.6" text-anchor="middle" fill="#111" >Charge</text>
<text x="17.80" y="401.30" font-size="6.5" text-anchor="middle" fill="#111" transform="rotate(-90 17.8 401.3)">Desaturation</text>
<text x="122.70" y="321.60" font-size="6.6" text-anchor="start" fill="#222" >Cell</text>
<circle cx="142.60" cy="319.40" r="2.1" fill="#66CDD7" />
<text x="150.50" y="321.30" font-size="5.2" text-anchor="start" fill="#333" >G1</text>
<circle cx="165.50" cy="319.40" r="2.1" fill="#F0D465" />
<text x="173.40" y="321.30" font-size="5.2" text-anchor="start" fill="#333" >SC</text>
<circle cx="193.70" cy="350.40" r="1.65" fill="#40BECA" fill-opacity="0.85"/>
<circle cx="203.20" cy="374.60" r="1.65" fill="#40BECA" fill-opacity="0.85"/>
<circle cx="239.90" cy="366.00" r="1.65" fill="#40BECA" fill-opacity="0.85"/>
<circle cx="239.90" cy="371.50" r="1.65" fill="#40BECA" fill-opacity="0.85"/>
<circle cx="240.00" cy="393.30" r="1.65" fill="#40BECA" fill-opacity="0.85"/>
<circle cx="46.00" cy="464.30" r="1.65" fill="#40BECA" fill-opacity="0.85"/>
<circle cx="132.20" cy="464.50" r="1.65" fill="#40BECA" fill-opacity="0.85"/>
<circle cx="142.20" cy="464.50" r="1.65" fill="#E6C334" fill-opacity="0.85"/>
<circle cx="156.90" cy="464.50" r="1.65" fill="#E6C334" fill-opacity="0.85"/>
<circle cx="163.60" cy="464.50" r="1.65" fill="#E6C334" fill-opacity="0.85"/>
<circle cx="171.20" cy="464.50" r="1.65" fill="#E6C334" fill-opacity="0.85"/>
<circle cx="173.60" cy="464.50" r="1.65" fill="#40BECA" fill-opacity="0.85"/>
<circle cx="188.40" cy="464.50" r="1.65" fill="#40BECA" fill-opacity="0.85"/>
<circle cx="189.80" cy="464.50" r="1.65" fill="#40BECA" fill-opacity="0.85"/>
<circle cx="198.00" cy="464.50" r="1.65" fill="#40BECA" fill-opacity="0.85"/>
<circle cx="190.60" cy="464.30" r="1.65" fill="#40BECA" fill-opacity="0.85"/>
<circle cx="216.00" cy="464.20" r="1.65" fill="#40BECA" fill-opacity="0.85"/>
<circle cx="218.50" cy="464.20" r="1.65" fill="#40BECA" fill-opacity="0.85"/>
<circle cx="223.00" cy="464.20" r="1.65" fill="#E6C334" fill-opacity="0.85"/>
<circle cx="226.00" cy="464.20" r="1.65" fill="#E6C334" fill-opacity="0.85"/>
<circle cx="224.80" cy="427.20" r="1.65" fill="#E6C334" fill-opacity="0.85"/>
<circle cx="229.10" cy="438.20" r="1.65" fill="#E6C334" fill-opacity="0.85"/>
<circle cx="231.20" cy="442.80" r="1.65" fill="#E6C334" fill-opacity="0.85"/>
<circle cx="207.10" cy="444.20" r="1.65" fill="#40BECA" fill-opacity="0.85"/>
<circle cx="222.80" cy="450.30" r="1.65" fill="#40BECA" fill-opacity="0.85"/>
<circle cx="226.30" cy="450.30" r="1.65" fill="#E6C334" fill-opacity="0.85"/>
<circle cx="226.30" cy="453.00" r="1.65" fill="#40BECA" fill-opacity="0.85"/>
<circle cx="215.60" cy="454.40" r="1.65" fill="#40BECA" fill-opacity="0.85"/>
<circle cx="229.20" cy="455.60" r="1.65" fill="#40BECA" fill-opacity="0.85"/>
<circle cx="223.00" cy="460.60" r="1.65" fill="#E6C334" fill-opacity="0.85"/>
<circle cx="240.00" cy="418.75" r="1.65" fill="#40BECA" fill-opacity="0.85"/>
<circle cx="240.00" cy="421.00" r="1.65" fill="#40BECA" fill-opacity="0.85"/>
<circle cx="240.00" cy="427.00" r="1.65" fill="#40BECA" fill-opacity="0.85"/>
<circle cx="240.00" cy="434.00" r="1.65" fill="#40BECA" fill-opacity="0.85"/>
<circle cx="240.00" cy="436.00" r="1.65" fill="#40BECA" fill-opacity="0.85"/>
<circle cx="240.00" cy="439.40" r="1.65" fill="#40BECA" fill-opacity="0.85"/>
<circle cx="240.00" cy="451.40" r="1.65" fill="#40BECA" fill-opacity="0.85"/>
<circle cx="240.00" cy="425.50" r="1.65" fill="#E6C334" fill-opacity="0.85"/>
<circle cx="240.00" cy="442.00" r="1.65" fill="#E6C334" fill-opacity="0.85"/>
<circle cx="240.00" cy="446.00" r="1.65" fill="#E6C334" fill-opacity="0.85"/>
<circle cx="229.60" cy="447.40" r="1.65" fill="#40BECA" fill-opacity="0.85"/>
<circle cx="230.90" cy="449.10" r="1.65" fill="#40BECA" fill-opacity="0.85"/>
<circle cx="232.20" cy="450.80" r="1.65" fill="#40BECA" fill-opacity="0.85"/>
<circle cx="233.50" cy="452.50" r="1.65" fill="#40BECA" fill-opacity="0.85"/>
<circle cx="234.80" cy="454.20" r="1.65" fill="#40BECA" fill-opacity="0.85"/>
<circle cx="236.10" cy="455.90" r="1.65" fill="#40BECA" fill-opacity="0.85"/>
<circle cx="240.00" cy="453.00" r="1.65" fill="#E6C334" fill-opacity="0.85"/>
<circle cx="240.00" cy="455.00" r="1.65" fill="#E6C334" fill-opacity="0.85"/>
<circle cx="240.00" cy="457.00" r="1.65" fill="#E6C334" fill-opacity="0.85"/>
<circle cx="240.00" cy="459.00" r="1.65" fill="#E6C334" fill-opacity="0.85"/>
<circle cx="240.00" cy="461.00" r="1.65" fill="#E6C334" fill-opacity="0.85"/>
<circle cx="240.00" cy="463.00" r="1.65" fill="#E6C334" fill-opacity="0.85"/>
<circle cx="240.00" cy="465.00" r="1.65" fill="#E6C334" fill-opacity="0.85"/>
<circle cx="231.86" cy="460.71" r="1.65" fill="#E6C334" fill-opacity="0.85"/>
<circle cx="239.99" cy="459.98" r="1.65" fill="#E6C334" fill-opacity="0.85"/>
<circle cx="236.27" cy="464.54" r="1.65" fill="#40BECA" fill-opacity="0.85"/>
<circle cx="240.95" cy="459.94" r="1.65" fill="#40BECA" fill-opacity="0.85"/>
<circle cx="233.77" cy="464.04" r="1.65" fill="#E6C334" fill-opacity="0.85"/>
<circle cx="236.62" cy="464.11" r="1.65" fill="#40BECA" fill-opacity="0.85"/>
<circle cx="237.90" cy="462.05" r="1.65" fill="#E6C334" fill-opacity="0.85"/>
<circle cx="230.91" cy="465.05" r="1.65" fill="#E6C334" fill-opacity="0.85"/>
<circle cx="239.39" cy="459.96" r="1.65" fill="#40BECA" fill-opacity="0.85"/>
<circle cx="237.57" cy="464.67" r="1.65" fill="#40BECA" fill-opacity="0.85"/>
<circle cx="237.74" cy="461.06" r="1.65" fill="#E6C334" fill-opacity="0.85"/>
<circle cx="239.55" cy="456.02" r="1.65" fill="#E6C334" fill-opacity="0.85"/>
<circle cx="234.94" cy="457.71" r="1.65" fill="#40BECA" fill-opacity="0.85"/>
<circle cx="238.35" cy="463.98" r="1.65" fill="#40BECA" fill-opacity="0.85"/>
<circle cx="235.09" cy="459.05" r="1.65" fill="#E6C334" fill-opacity="0.85"/>
<circle cx="235.41" cy="459.28" r="1.65" fill="#E6C334" fill-opacity="0.85"/>
<circle cx="239.85" cy="462.16" r="1.65" fill="#E6C334" fill-opacity="0.85"/>
<circle cx="239.28" cy="465.41" r="1.65" fill="#E6C334" fill-opacity="0.85"/>
<circle cx="237.38" cy="458.43" r="1.65" fill="#E6C334" fill-opacity="0.85"/>
<circle cx="237.57" cy="457.22" r="1.65" fill="#E6C334" fill-opacity="0.85"/>
<circle cx="239.25" cy="465.39" r="1.65" fill="#E6C334" fill-opacity="0.85"/>
<circle cx="239.77" cy="455.21" r="1.65" fill="#40BECA" fill-opacity="0.85"/>
<circle cx="238.23" cy="464.16" r="1.65" fill="#E6C334" fill-opacity="0.85"/>
<circle cx="236.26" cy="463.00" r="1.65" fill="#40BECA" fill-opacity="0.85"/>
<circle cx="237.62" cy="458.48" r="1.65" fill="#E6C334" fill-opacity="0.85"/>
<circle cx="235.07" cy="465.48" r="1.65" fill="#E6C334" fill-opacity="0.85"/>
<circle cx="235.43" cy="464.96" r="1.65" fill="#40BECA" fill-opacity="0.85"/>
<circle cx="237.28" cy="465.29" r="1.65" fill="#E6C334" fill-opacity="0.85"/>
<circle cx="232.77" cy="465.07" r="1.65" fill="#40BECA" fill-opacity="0.85"/>
<circle cx="233.52" cy="464.13" r="1.65" fill="#40BECA" fill-opacity="0.85"/>
<circle cx="236.73" cy="461.25" r="1.65" fill="#E6C334" fill-opacity="0.85"/>
<circle cx="236.44" cy="464.88" r="1.65" fill="#E6C334" fill-opacity="0.85"/>
<circle cx="234.17" cy="462.56" r="1.65" fill="#E6C334" fill-opacity="0.85"/>
<circle cx="240.24" cy="459.59" r="1.65" fill="#E6C334" fill-opacity="0.85"/>
<rect x="36.6" y="345.3" width="110.30000000000001" height="62.30000000000001" fill="#D8D8D8" stroke="#8c8c8c" stroke-width="0.7"/>
<rect x="56.4" y="349.7" width="88.4" height="54.5" fill="#DADADA" stroke="#8a8a8a" stroke-width="0.6"/>
<line x1="55.40" y1="349.70" x2="56.40" y2="349.70" stroke="#555" stroke-width="0.5" />
<text x="55.10" y="350.55" font-size="2.5" text-anchor="end" fill="#333" font-weight="bold">0</text>
<line x1="55.40" y1="358.78" x2="56.40" y2="358.78" stroke="#555" stroke-width="0.5" />
<text x="55.10" y="359.63" font-size="2.5" text-anchor="end" fill="#333" font-weight="bold">-5E-07</text>
<line x1="55.40" y1="367.87" x2="56.40" y2="367.87" stroke="#555" stroke-width="0.5" />
<text x="55.10" y="368.72" font-size="2.5" text-anchor="end" fill="#333" font-weight="bold">-1E-06</text>
<line x1="55.40" y1="376.95" x2="56.40" y2="376.95" stroke="#555" stroke-width="0.5" />
<text x="55.10" y="377.80" font-size="2.5" text-anchor="end" fill="#333" font-weight="bold">-1.5E-06</text>
<line x1="55.40" y1="386.03" x2="56.40" y2="386.03" stroke="#555" stroke-width="0.5" />
<text x="55.10" y="386.88" font-size="2.5" text-anchor="end" fill="#333" font-weight="bold">-2E-06</text>
<line x1="55.40" y1="395.12" x2="56.40" y2="395.12" stroke="#555" stroke-width="0.5" />
<text x="55.10" y="395.97" font-size="2.5" text-anchor="end" fill="#333" font-weight="bold">-2.5E-06</text>
<line x1="55.40" y1="404.20" x2="56.40" y2="404.20" stroke="#555" stroke-width="0.5" />
<text x="55.10" y="405.05" font-size="2.5" text-anchor="end" fill="#333" font-weight="bold">-3E-06</text>
<text x="43.13" y="376.95" font-size="2.8" textLength="21" lengthAdjust="spacingAndGlyphs" text-anchor="middle" fill="#222" transform="rotate(-90 43.13 376.95)">Max. Desaturation</text>
<line x1="56.40" y1="349.70" x2="144.80" y2="349.70" stroke="#555" stroke-width="0.6" />
<line x1="56.40" y1="349.70" x2="56.40" y2="404.20" stroke="#555" stroke-width="0.6" />
<rect x="67.20" y="349.70" width="21.90" height="36.40" fill="#58C0CA" />
<line x1="78.15" y1="386.10" x2="78.15" y2="396.40" stroke="#666" stroke-width="0.45" />
<line x1="77.35" y1="396.40" x2="78.95" y2="396.40" stroke="#666" stroke-width="0.45" />
<text x="78.15" y="348.80" font-size="2.9" text-anchor="middle" fill="#333">G1</text>
<rect x="111.00" y="349.70" width="22.30" height="22.40" fill="#E6C655" />
<line x1="122.15" y1="372.10" x2="122.15" y2="379.60" stroke="#666" stroke-width="0.45" />
<line x1="121.35" y1="379.60" x2="122.95" y2="379.60" stroke="#666" stroke-width="0.45" />
<text x="122.15" y="348.80" font-size="2.9" text-anchor="middle" fill="#333">SC</text>
<text transform="translate(366.8 307.0) scale(1 1)" font-size="20.3" fill="#111">D</text>
<rect x="355.40" y="338.90" width="213.20" height="124.90" fill="#D9D9D9" />
<polygon points="365.30,337.60 365.30,337.50 366.00,337.50 366.70,337.50 367.40,337.50 368.10,337.50 368.80,337.50 369.50,337.50 370.20,337.50 370.90,337.50 371.60,337.50 372.30,337.50 373.00,337.50 373.70,337.50 374.40,337.50 375.10,337.50 375.80,337.50 376.50,337.50 377.20,337.50 377.90,337.50 378.60,337.50 379.30,337.49 380.00,337.49 380.70,337.49 381.40,337.49 382.10,337.49 382.80,337.49 383.50,337.49 384.20,337.49 384.90,337.49 385.60,337.49 386.30,337.49 387.00,337.49 387.70,337.49 388.40,337.49 389.10,337.49 389.80,337.49 390.50,337.49 391.20,337.49 391.90,337.49 392.60,337.49 393.30,337.49 394.00,337.49 394.70,337.49 395.40,337.49 396.10,337.49 396.80,337.49 397.50,337.49 398.20,337.49 398.90,337.49 399.60,337.49 400.30,337.49 401.00,337.49 401.70,337.49 402.40,337.49 403.10,337.49 403.80,337.49 404.50,337.49 405.20,337.49 405.90,337.48 406.60,337.48 407.30,337.48 408.00,337.48 408.70,337.48 409.40,337.48 410.10,337.48 410.80,337.48 411.50,337.48 412.20,337.48 412.90,337.48 413.60,337.48 414.30,337.48 415.00,337.48 415.70,337.48 416.40,337.48 417.10,337.48 417.80,337.48 418.50,337.48 419.20,337.48 419.90,337.48 420.60,337.48 421.30,337.48 422.00,337.48 422.70,337.48 423.40,337.48 424.10,337.48 424.80,337.48 425.50,337.48 426.20,337.48 426.90,337.48 427.60,337.48 428.30,337.48 429.00,337.48 429.70,337.48 430.40,337.48 431.10,337.48 431.80,337.48 432.50,337.48 433.20,337.47 433.90,337.47 434.60,337.47 435.30,337.47 436.00,337.47 436.70,337.47 437.40,337.47 438.10,337.47 438.80,337.47 439.50,337.47 440.20,337.47 440.90,337.47 441.60,337.47 442.30,337.47 443.00,337.47 443.70,337.47 444.40,337.47 445.10,337.47 445.80,337.47 446.50,337.47 447.20,337.47 447.90,337.47 448.60,337.47 449.30,337.47 450.00,337.47 450.70,337.47 451.40,337.47 452.10,337.47 452.80,337.47 453.50,337.47 454.20,337.47 454.90,337.47 455.60,337.47 456.30,337.47 457.00,337.47 457.70,337.47 458.40,337.47 459.10,337.47 459.80,337.46 460.50,337.46 461.20,337.46 461.90,337.46 462.60,337.46 463.30,337.46 464.00,337.46 464.70,337.46 465.40,337.46 466.10,337.46 466.80,337.46 467.50,337.46 468.20,337.46 468.90,337.46 469.60,337.46 470.30,337.46 471.00,337.46 471.70,337.46 472.40,337.46 473.10,337.46 473.80,337.46 474.50,337.46 475.20,337.46 475.90,337.46 476.60,337.46 477.30,337.46 478.00,337.46 478.70,337.46 479.40,337.46 480.10,337.46 480.80,337.46 481.50,337.46 482.20,337.46 482.90,337.46 483.60,337.46 484.30,337.46 485.00,337.46 485.70,337.46 486.40,337.46 487.10,337.45 487.80,337.45 488.50,337.45 489.20,337.45 489.90,337.45 490.60,337.45 491.30,337.45 492.00,337.45 492.70,337.45 493.40,337.45 494.10,337.45 494.80,337.45 495.50,337.45 496.20,337.45 496.90,337.45 497.60,337.45 498.30,337.45 499.00,337.45 499.70,337.45 500.00,337.45 500.40,337.45 501.10,337.44 501.80,337.44 502.50,337.43 503.20,337.42 503.90,337.42 504.60,337.41 505.30,337.41 506.00,337.40 506.70,337.39 507.40,337.39 508.10,337.38 508.80,337.38 509.50,337.37 510.20,337.37 510.90,337.36 511.60,337.35 512.30,337.35 513.00,337.34 513.70,337.34 514.40,337.33 515.10,337.32 515.80,337.32 516.50,337.31 517.20,337.31 517.90,337.30 518.60,337.30 519.30,337.29 520.00,337.28 520.70,337.28 521.40,337.27 522.10,337.27 522.80,337.26 523.50,337.25 524.20,337.25 524.90,337.24 525.60,337.24 526.30,337.23 527.00,337.23 527.70,337.22 528.40,337.21 529.10,337.21 529.80,337.20 530.00,337.20 530.50,337.18 531.20,337.15 531.90,337.12 532.60,337.10 533.30,337.07 534.00,337.04 534.70,337.01 535.40,336.98 536.10,336.96 536.80,336.93 537.50,336.90 538.20,336.87 538.90,336.84 539.60,336.82 540.00,336.80 540.30,336.79 541.00,336.76 541.70,336.73 542.40,336.70 543.10,336.68 543.80,336.65 544.50,336.62 545.00,336.60 545.20,336.57 545.90,336.45 546.60,336.33 547.30,336.22 548.00,336.10 548.70,335.98 549.40,335.87 550.10,335.75 550.80,335.63 551.00,335.60 551.50,335.35 552.20,335.00 552.90,334.65 553.00,334.60 553.60,334.30 554.30,333.95 555.00,333.60 555.00,333.60 555.70,332.55 556.00,332.10 556.40,331.50 557.00,330.60 557.10,330.35 557.60,329.10 557.80,328.60 558.20,327.60 558.50,329.60 558.50,329.60 558.80,331.60 558.90,332.80 559.10,335.20 559.20,336.40 559.30,337.60 559.30,337.60" fill="#40BECA" stroke="#4a6a6a" stroke-width="0.3" stroke-opacity="0.35"/>
<polygon points="365.30,337.60 365.30,337.55 366.00,337.55 366.70,337.55 367.40,337.55 368.10,337.55 368.80,337.55 369.50,337.55 370.20,337.55 370.90,337.55 371.60,337.55 372.30,337.55 373.00,337.55 373.70,337.55 374.40,337.55 375.10,337.55 375.80,337.55 376.50,337.55 377.20,337.55 377.90,337.55 378.60,337.55 379.30,337.54 380.00,337.54 380.70,337.54 381.40,337.54 382.10,337.54 382.80,337.54 383.50,337.54 384.20,337.54 384.90,337.54 385.60,337.54 386.30,337.54 387.00,337.54 387.70,337.54 388.40,337.54 389.10,337.54 389.80,337.54 390.50,337.54 391.20,337.54 391.90,337.54 392.60,337.54 393.30,337.54 394.00,337.54 394.70,337.54 395.40,337.54 396.10,337.54 396.80,337.54 397.50,337.54 398.20,337.54 398.90,337.54 399.60,337.54 400.30,337.54 401.00,337.54 401.70,337.54 402.40,337.54 403.10,337.54 403.80,337.54 404.50,337.54 405.20,337.54 405.90,337.53 406.60,337.53 407.30,337.53 408.00,337.53 408.70,337.53 409.40,337.53 410.10,337.53 410.80,337.53 411.50,337.53 412.20,337.53 412.90,337.53 413.60,337.53 414.30,337.53 415.00,337.53 415.70,337.53 416.40,337.53 417.10,337.53 417.80,337.53 418.50,337.53 419.20,337.53 419.90,337.53 420.60,337.53 421.30,337.53 422.00,337.53 422.70,337.53 423.40,337.53 424.10,337.53 424.80,337.53 425.50,337.53 426.20,337.53 426.90,337.53 427.60,337.53 428.30,337.53 429.00,337.53 429.70,337.53 430.40,337.53 431.10,337.53 431.80,337.53 432.50,337.53 433.20,337.52 433.90,337.52 434.60,337.52 435.30,337.52 436.00,337.52 436.70,337.52 437.40,337.52 438.10,337.52 438.80,337.52 439.50,337.52 440.20,337.52 440.90,337.52 441.60,337.52 442.30,337.52 443.00,337.52 443.70,337.52 444.40,337.52 445.10,337.52 445.80,337.52 446.50,337.52 447.20,337.52 447.90,337.52 448.60,337.52 449.30,337.52 450.00,337.52 450.70,337.52 451.40,337.52 452.10,337.52 452.80,337.52 453.50,337.52 454.20,337.52 454.90,337.52 455.60,337.52 456.30,337.52 457.00,337.52 457.70,337.52 458.40,337.52 459.10,337.52 459.80,337.51 460.50,337.51 461.20,337.51 461.90,337.51 462.60,337.51 463.30,337.51 464.00,337.51 464.70,337.51 465.40,337.51 466.10,337.51 466.80,337.51 467.50,337.51 468.20,337.51 468.90,337.51 469.60,337.51 470.30,337.51 471.00,337.51 471.70,337.51 472.40,337.51 473.10,337.51 473.80,337.51 474.50,337.51 475.20,337.51 475.90,337.51 476.60,337.51 477.30,337.51 478.00,337.51 478.70,337.51 479.40,337.51 480.10,337.51 480.80,337.51 481.50,337.51 482.20,337.51 482.90,337.51 483.60,337.51 484.30,337.51 485.00,337.51 485.70,337.51 486.40,337.51 487.10,337.50 487.80,337.50 488.50,337.50 489.20,337.50 489.90,337.50 490.60,337.50 491.30,337.50 492.00,337.50 492.70,337.50 493.40,337.50 494.10,337.50 494.80,337.50 495.50,337.50 496.20,337.50 496.90,337.50 497.60,337.50 498.30,337.50 499.00,337.50 499.70,337.50 500.00,337.50 500.40,337.50 501.10,337.49 501.80,337.48 502.50,337.48 503.20,337.47 503.90,337.46 504.60,337.45 505.30,337.45 506.00,337.44 506.70,337.43 507.40,337.43 508.10,337.42 508.80,337.41 509.50,337.41 510.20,337.40 510.90,337.39 511.60,337.38 512.30,337.38 513.00,337.37 513.70,337.36 514.40,337.36 515.10,337.35 515.80,337.34 516.50,337.34 517.20,337.33 517.90,337.32 518.60,337.31 519.30,337.31 520.00,337.30 520.70,337.29 521.40,337.29 522.10,337.28 522.80,337.27 523.50,337.27 524.20,337.26 524.90,337.25 525.60,337.24 526.30,337.24 527.00,337.23 527.70,337.22 528.40,337.22 529.10,337.21 529.80,337.20 530.00,337.20 530.50,337.20 531.20,337.19 531.90,337.18 532.60,337.17 533.30,337.17 534.00,337.16 534.70,337.15 535.40,337.15 536.10,337.14 536.80,337.13 537.50,337.13 538.20,337.12 538.90,337.11 539.60,337.10 540.00,337.10 540.30,337.07 541.00,337.00 541.70,336.93 542.40,336.86 543.10,336.79 543.80,336.72 544.50,336.65 545.00,336.60 545.20,336.58 545.90,336.51 546.60,336.44 547.30,336.37 548.00,336.30 548.70,336.09 549.40,335.88 550.10,335.67 550.80,335.46 551.00,335.40 551.50,335.25 552.20,335.04 552.90,334.83 553.00,334.80 553.60,334.26 554.30,333.63 555.00,333.00 555.00,333.00 555.70,332.37 556.00,332.10 556.40,330.97 557.00,329.29 557.10,329.01 557.60,327.60 557.80,324.93 558.20,319.60 558.50,304.00 558.50,304.00 558.80,317.95 558.90,322.60 559.10,332.60 559.20,335.10 559.30,337.60 559.30,337.60" fill="#E6C334" stroke="#6a6a4a" stroke-width="0.3" stroke-opacity="0.35"/>
<polygon points="365.30,337.60 365.30,337.55 366.00,337.55 366.70,337.55 367.40,337.55 368.10,337.55 368.80,337.55 369.50,337.55 370.20,337.55 370.90,337.55 371.60,337.55 372.30,337.55 373.00,337.55 373.70,337.55 374.40,337.55 375.10,337.55 375.80,337.55 376.50,337.55 377.20,337.55 377.90,337.55 378.60,337.55 379.30,337.54 380.00,337.54 380.70,337.54 381.40,337.54 382.10,337.54 382.80,337.54 383.50,337.54 384.20,337.54 384.90,337.54 385.60,337.54 386.30,337.54 387.00,337.54 387.70,337.54 388.40,337.54 389.10,337.54 389.80,337.54 390.50,337.54 391.20,337.54 391.90,337.54 392.60,337.54 393.30,337.54 394.00,337.54 394.70,337.54 395.40,337.54 396.10,337.54 396.80,337.54 397.50,337.54 398.20,337.54 398.90,337.54 399.60,337.54 400.30,337.54 401.00,337.54 401.70,337.54 402.40,337.54 403.10,337.54 403.80,337.54 404.50,337.54 405.20,337.54 405.90,337.53 406.60,337.53 407.30,337.53 408.00,337.53 408.70,337.53 409.40,337.53 410.10,337.53 410.80,337.53 411.50,337.53 412.20,337.53 412.90,337.53 413.60,337.53 414.30,337.53 415.00,337.53 415.70,337.53 416.40,337.53 417.10,337.53 417.80,337.53 418.50,337.53 419.20,337.53 419.90,337.53 420.60,337.53 421.30,337.53 422.00,337.53 422.70,337.53 423.40,337.53 424.10,337.53 424.80,337.53 425.50,337.53 426.20,337.53 426.90,337.53 427.60,337.53 428.30,337.53 429.00,337.53 429.70,337.53 430.40,337.53 431.10,337.53 431.80,337.53 432.50,337.53 433.20,337.52 433.90,337.52 434.60,337.52 435.30,337.52 436.00,337.52 436.70,337.52 437.40,337.52 438.10,337.52 438.80,337.52 439.50,337.52 440.20,337.52 440.90,337.52 441.60,337.52 442.30,337.52 443.00,337.52 443.70,337.52 444.40,337.52 445.10,337.52 445.80,337.52 446.50,337.52 447.20,337.52 447.90,337.52 448.60,337.52 449.30,337.52 450.00,337.52 450.70,337.52 451.40,337.52 452.10,337.52 452.80,337.52 453.50,337.52 454.20,337.52 454.90,337.52 455.60,337.52 456.30,337.52 457.00,337.52 457.70,337.52 458.40,337.52 459.10,337.52 459.80,337.51 460.50,337.51 461.20,337.51 461.90,337.51 462.60,337.51 463.30,337.51 464.00,337.51 464.70,337.51 465.40,337.51 466.10,337.51 466.80,337.51 467.50,337.51 468.20,337.51 468.90,337.51 469.60,337.51 470.30,337.51 471.00,337.51 471.70,337.51 472.40,337.51 473.10,337.51 473.80,337.51 474.50,337.51 475.20,337.51 475.90,337.51 476.60,337.51 477.30,337.51 478.00,337.51 478.70,337.51 479.40,337.51 480.10,337.51 480.80,337.51 481.50,337.51 482.20,337.51 482.90,337.51 483.60,337.51 484.30,337.51 485.00,337.51 485.70,337.51 486.40,337.51 487.10,337.50 487.80,337.50 488.50,337.50 489.20,337.50 489.90,337.50 490.60,337.50 491.30,337.50 492.00,337.50 492.70,337.50 493.40,337.50 494.10,337.50 494.80,337.50 495.50,337.50 496.20,337.50 496.90,337.50 497.60,337.50 498.30,337.50 499.00,337.50 499.70,337.50 500.00,337.50 500.40,337.50 501.10,337.49 501.80,337.48 502.50,337.48 503.20,337.47 503.90,337.46 504.60,337.45 505.30,337.45 506.00,337.44 506.70,337.43 507.40,337.43 508.10,337.42 508.80,337.41 509.50,337.41 510.20,337.40 510.90,337.39 511.60,337.38 512.30,337.38 513.00,337.37 513.70,337.36 514.40,337.36 515.10,337.35 515.80,337.34 516.50,337.34 517.20,337.33 517.90,337.32 518.60,337.31 519.30,337.31 520.00,337.30 520.70,337.29 521.40,337.29 522.10,337.28 522.80,337.27 523.50,337.27 524.20,337.26 524.90,337.25 525.60,337.24 526.30,337.24 527.00,337.23 527.70,337.22 528.40,337.22 529.10,337.21 529.80,337.20 530.00,337.20 530.50,337.20 531.20,337.19 531.90,337.18 532.60,337.17 533.30,337.17 534.00,337.16 534.70,337.15 535.40,337.15 536.10,337.14 536.80,337.13 537.50,337.13 538.20,337.12 538.90,337.11 539.60,337.10 540.00,337.10 540.30,337.07 541.00,337.00 541.70,336.93 542.40,336.86 543.10,336.79 543.80,336.72 544.50,336.65 545.00,336.60 545.20,336.58 545.90,336.51 546.60,336.44 547.30,336.37 548.00,336.30 548.70,336.09 549.40,335.88 550.10,335.75 550.80,335.63 551.00,335.60 551.50,335.35 552.20,335.04 552.90,334.83 553.00,334.80 553.60,334.30 554.30,333.95 555.00,333.60 555.00,333.60 555.70,332.55 556.00,332.10 556.40,331.50 557.00,330.60 557.10,330.35 557.60,329.10 557.80,328.60 558.20,327.60 558.50,329.60 558.50,329.60 558.80,331.60 558.90,332.80 559.10,335.20 559.20,336.40 559.30,337.60 559.30,337.60" fill="#B8BC40"/>
<line x1="365.30" y1="337.60" x2="559.30" y2="337.60" stroke="#8a8a8a" stroke-width="0.6" />
<line x1="570.30" y1="344.80" x2="570.30" y2="458.50" stroke="#a0a0a0" stroke-width="0.7" />
<polygon points="570.30,344.80 570.35,344.80 570.35,345.50 570.35,346.20 570.35,346.90 570.36,347.60 570.36,348.30 570.36,349.00 570.36,349.70 570.36,350.40 570.36,351.10 570.36,351.80 570.36,352.50 570.37,353.20 570.37,353.90 570.37,354.60 570.37,355.30 570.37,356.00 570.37,356.70 570.37,357.40 570.37,358.10 570.38,358.80 570.38,359.50 570.38,360.20 570.38,360.90 570.38,361.60 570.38,362.30 570.38,363.00 570.38,363.70 570.39,364.40 570.39,365.10 570.39,365.80 570.39,366.50 570.39,367.20 570.39,367.90 570.39,368.60 570.39,369.30 570.40,370.00 570.40,370.70 570.40,371.40 570.40,372.10 570.40,372.80 570.40,373.50 570.40,374.20 570.40,374.90 570.41,375.60 570.41,376.30 570.41,377.00 570.41,377.70 570.41,378.40 570.41,379.10 570.41,379.80 570.41,380.50 570.42,381.20 570.42,381.90 570.42,382.60 570.42,383.30 570.42,384.00 570.42,384.70 570.42,385.40 570.42,386.10 570.43,386.80 570.43,387.50 570.43,388.20 570.43,388.90 570.43,389.60 570.43,390.30 570.43,391.00 570.43,391.70 570.44,392.40 570.44,393.10 570.44,393.80 570.44,394.50 570.44,395.20 570.44,395.90 570.44,396.60 570.45,397.30 570.45,398.00 570.45,398.70 570.45,399.40 570.45,400.00 570.45,400.10 570.46,400.80 570.47,401.50 570.48,402.20 570.49,402.90 570.50,403.60 570.51,404.30 570.52,405.00 570.53,405.70 570.54,406.40 570.55,407.10 570.56,407.80 570.57,408.50 570.58,409.20 570.59,409.90 570.60,410.60 570.61,411.30 570.62,412.00 570.63,412.70 570.64,413.40 570.65,414.10 570.66,414.80 570.67,415.50 570.68,416.20 570.69,416.90 570.70,417.60 570.71,418.30 570.72,419.00 570.73,419.70 570.74,420.40 570.75,421.10 570.76,421.80 570.76,422.50 570.77,423.20 570.78,423.90 570.79,424.60 570.80,425.00 570.84,425.30 570.92,426.00 571.01,426.70 571.10,427.40 571.19,428.10 571.27,428.80 571.36,429.50 571.42,430.00 571.45,430.20 571.54,430.90 571.62,431.60 571.71,432.30 571.80,433.00 571.89,433.70 571.97,434.40 572.06,435.10 572.15,435.80 572.24,436.50 572.30,437.00 572.34,437.20 572.48,437.90 572.63,438.60 572.77,439.30 572.91,440.00 573.05,440.70 573.20,441.40 573.34,442.10 573.48,442.80 573.62,443.50 573.77,444.20 573.91,444.90 574.05,445.60 574.19,446.30 574.34,447.00 574.48,447.70 574.50,447.80 575.17,448.40 575.95,449.10 576.73,449.80 577.51,450.50 578.29,451.20 579.07,451.90 579.85,452.60 580.30,453.00 580.99,453.30 582.61,454.00 584.22,454.70 585.84,455.40 586.30,455.60 587.09,456.10 588.19,456.80 588.51,457.00 589.30,457.50 589.30,457.50 589.70,457.90 590.00,458.20 590.30,458.50 570.30,458.50" fill="#40BECA" stroke="#4a6a6a" stroke-width="0.3" stroke-opacity="0.35"/>
<polygon points="570.30,344.80 570.30,344.80 570.30,345.50 570.30,346.20 570.31,346.90 570.31,347.60 570.31,348.30 570.31,349.00 570.32,349.70 570.32,350.40 570.32,351.10 570.32,351.80 570.33,352.50 570.33,353.20 570.33,353.90 570.33,354.60 570.34,355.30 570.34,356.00 570.34,356.70 570.34,357.40 570.35,358.10 570.35,358.80 570.35,359.50 570.35,360.20 570.36,360.90 570.36,361.60 570.36,362.30 570.36,363.00 570.37,363.70 570.37,364.40 570.37,365.10 570.37,365.80 570.38,366.50 570.38,367.20 570.38,367.90 570.38,368.60 570.39,369.30 570.39,370.00 570.39,370.70 570.39,371.40 570.40,372.10 570.40,372.80 570.40,373.50 570.40,374.20 570.41,374.90 570.41,375.60 570.41,376.30 570.41,377.00 570.42,377.70 570.42,378.40 570.42,379.10 570.42,379.80 570.43,380.50 570.43,381.20 570.43,381.90 570.43,382.60 570.44,383.30 570.44,384.00 570.44,384.70 570.44,385.40 570.45,386.10 570.45,386.80 570.45,387.50 570.45,388.20 570.46,388.90 570.46,389.60 570.46,390.30 570.46,391.00 570.47,391.70 570.47,392.40 570.47,393.10 570.47,393.80 570.47,394.50 570.48,395.20 570.48,395.90 570.48,396.60 570.48,397.30 570.49,398.00 570.49,398.70 570.49,399.40 570.49,400.00 570.49,400.10 570.50,400.80 570.50,401.50 570.50,402.20 570.50,402.90 570.51,403.60 570.51,404.30 570.51,405.00 570.51,405.70 570.52,406.40 570.52,407.10 570.52,407.80 570.52,408.50 570.53,409.20 570.53,409.90 570.53,410.60 570.53,411.30 570.54,412.00 570.54,412.70 570.54,413.40 570.54,414.10 570.55,414.80 570.55,415.50 570.55,416.20 570.55,416.90 570.56,417.60 570.56,418.30 570.56,419.00 570.56,419.70 570.57,420.40 570.57,421.10 570.57,421.80 570.57,422.50 570.58,423.20 570.58,423.90 570.58,424.60 570.58,425.00 570.58,425.30 570.59,426.00 570.59,426.70 570.59,427.40 570.59,428.10 570.60,428.80 570.60,429.50 570.60,430.00 570.62,430.20 570.69,430.90 570.76,431.60 570.83,432.30 570.90,433.00 570.97,433.70 571.04,434.40 571.11,435.10 571.18,435.80 571.25,436.50 571.30,437.00 571.33,437.20 571.42,437.90 571.52,438.60 571.62,439.30 571.72,440.00 571.81,440.70 571.91,441.40 572.01,442.10 572.11,442.80 572.20,443.50 572.30,444.20 572.40,444.90 572.49,445.60 572.59,446.30 572.69,447.00 572.79,447.70 572.80,447.80 573.20,448.40 573.67,449.10 574.15,449.80 574.62,450.50 575.09,451.20 575.56,451.90 576.03,452.60 576.30,453.00 576.99,453.30 578.61,454.00 580.22,454.70 581.84,455.40 582.30,455.60 586.94,456.10 593.44,456.80 595.30,457.00 602.74,457.50 602.74,457.50 608.70,457.90 608.70,458.20 608.70,458.50 570.30,458.50" fill="#E6C334" stroke="#6a6a4a" stroke-width="0.3" stroke-opacity="0.35"/>
<polygon points="570.30,344.80 570.30,344.80 570.30,345.50 570.30,346.20 570.31,346.90 570.31,347.60 570.31,348.30 570.31,349.00 570.32,349.70 570.32,350.40 570.32,351.10 570.32,351.80 570.33,352.50 570.33,353.20 570.33,353.90 570.33,354.60 570.34,355.30 570.34,356.00 570.34,356.70 570.34,357.40 570.35,358.10 570.35,358.80 570.35,359.50 570.35,360.20 570.36,360.90 570.36,361.60 570.36,362.30 570.36,363.00 570.37,363.70 570.37,364.40 570.37,365.10 570.37,365.80 570.38,366.50 570.38,367.20 570.38,367.90 570.38,368.60 570.39,369.30 570.39,370.00 570.39,370.70 570.39,371.40 570.40,372.10 570.40,372.80 570.40,373.50 570.40,374.20 570.40,374.90 570.41,375.60 570.41,376.30 570.41,377.00 570.41,377.70 570.41,378.40 570.41,379.10 570.41,379.80 570.41,380.50 570.42,381.20 570.42,381.90 570.42,382.60 570.42,383.30 570.42,384.00 570.42,384.70 570.42,385.40 570.42,386.10 570.43,386.80 570.43,387.50 570.43,388.20 570.43,388.90 570.43,389.60 570.43,390.30 570.43,391.00 570.43,391.70 570.44,392.40 570.44,393.10 570.44,393.80 570.44,394.50 570.44,395.20 570.44,395.90 570.44,396.60 570.45,397.30 570.45,398.00 570.45,398.70 570.45,399.40 570.45,400.00 570.45,400.10 570.46,400.80 570.47,401.50 570.48,402.20 570.49,402.90 570.50,403.60 570.51,404.30 570.51,405.00 570.51,405.70 570.52,406.40 570.52,407.10 570.52,407.80 570.52,408.50 570.53,409.20 570.53,409.90 570.53,410.60 570.53,411.30 570.54,412.00 570.54,412.70 570.54,413.40 570.54,414.10 570.55,414.80 570.55,415.50 570.55,416.20 570.55,416.90 570.56,417.60 570.56,418.30 570.56,419.00 570.56,419.70 570.57,420.40 570.57,421.10 570.57,421.80 570.57,422.50 570.58,423.20 570.58,423.90 570.58,424.60 570.58,425.00 570.58,425.30 570.59,426.00 570.59,426.70 570.59,427.40 570.59,428.10 570.60,428.80 570.60,429.50 570.60,430.00 570.62,430.20 570.69,430.90 570.76,431.60 570.83,432.30 570.90,433.00 570.97,433.70 571.04,434.40 571.11,435.10 571.18,435.80 571.25,436.50 571.30,437.00 571.33,437.20 571.42,437.90 571.52,438.60 571.62,439.30 571.72,440.00 571.81,440.70 571.91,441.40 572.01,442.10 572.11,442.80 572.20,443.50 572.30,444.20 572.40,444.90 572.49,445.60 572.59,446.30 572.69,447.00 572.79,447.70 572.80,447.80 573.20,448.40 573.67,449.10 574.15,449.80 574.62,450.50 575.09,451.20 575.56,451.90 576.03,452.60 576.30,453.00 576.99,453.30 578.61,454.00 580.22,454.70 581.84,455.40 582.30,455.60 586.94,456.10 588.19,456.80 588.51,457.00 589.30,457.50 589.30,457.50 589.70,457.90 590.00,458.20 590.30,458.50 570.30,458.50" fill="#B8BC40"/>
<line x1="570.30" y1="344.80" x2="570.30" y2="458.50" stroke="#a0a0a0" stroke-width="0.7"/>
<line x1="355.40" y1="338.90" x2="355.40" y2="463.80" stroke="#7a7a7a" stroke-width="1.0" />
<line x1="355.40" y1="463.80" x2="568.60" y2="463.80" stroke="#9a9a9a" stroke-width="1.2" />
<line x1="353.40" y1="458.50" x2="355.40" y2="458.50" stroke="#7a7a7a" stroke-width="0.8" />
<text x="352.60" y="460.40" font-size="5.6" text-anchor="end" fill="#333" >0e+00</text>
<line x1="353.40" y1="430.00" x2="355.40" y2="430.00" stroke="#7a7a7a" stroke-width="0.8" />
<text x="352.60" y="431.90" font-size="5.6" text-anchor="end" fill="#333" >2e-04</text>
<line x1="353.40" y1="401.50" x2="355.40" y2="401.50" stroke="#7a7a7a" stroke-width="0.8" />
<text x="352.60" y="403.40" font-size="5.6" text-anchor="end" fill="#333" >4e-04</text>
<line x1="353.40" y1="373.00" x2="355.40" y2="373.00" stroke="#7a7a7a" stroke-width="0.8" />
<text x="352.60" y="374.90" font-size="5.6" text-anchor="end" fill="#333" >6e-04</text>
<line x1="353.40" y1="344.50" x2="355.40" y2="344.50" stroke="#7a7a7a" stroke-width="0.8" />
<text x="352.60" y="346.40" font-size="5.6" text-anchor="end" fill="#333" >8e-04</text>
<line x1="366.30" y1="463.80" x2="366.30" y2="465.80" stroke="#7a7a7a" stroke-width="0.8" />
<text x="366.30" y="470.00" font-size="5.6" text-anchor="middle" fill="#333" >-5e-05</text>
<line x1="405.04" y1="463.80" x2="405.04" y2="465.80" stroke="#7a7a7a" stroke-width="0.8" />
<text x="405.04" y="470.00" font-size="5.6" text-anchor="middle" fill="#333" >-4e-05</text>
<line x1="443.78" y1="463.80" x2="443.78" y2="465.80" stroke="#7a7a7a" stroke-width="0.8" />
<text x="443.78" y="470.00" font-size="5.6" text-anchor="middle" fill="#333" >-3e-05</text>
<line x1="482.52" y1="463.80" x2="482.52" y2="465.80" stroke="#7a7a7a" stroke-width="0.8" />
<text x="482.52" y="470.00" font-size="5.6" text-anchor="middle" fill="#333" >-2e-05</text>
<line x1="521.26" y1="463.80" x2="521.26" y2="465.80" stroke="#7a7a7a" stroke-width="0.8" />
<text x="521.26" y="470.00" font-size="5.6" text-anchor="middle" fill="#333" >-1e-05</text>
<line x1="560.00" y1="463.80" x2="560.00" y2="465.80" stroke="#7a7a7a" stroke-width="0.8" />
<text x="560.00" y="470.00" font-size="5.6" text-anchor="middle" fill="#333" >0e+00</text>
<text x="465.00" y="476.60" font-size="6.6" text-anchor="middle" fill="#111" >Charge</text>
<text x="335.30" y="398.70" font-size="6.5" text-anchor="middle" fill="#111" transform="rotate(-90 335.3 398.7)">Length</text>
<text x="442.00" y="309.40" font-size="6.6" text-anchor="start" fill="#222" >Cell</text>
<circle cx="462.00" cy="307.20" r="2.1" fill="#66CDD7" />
<text x="469.90" y="309.10" font-size="5.2" text-anchor="start" fill="#333" >G1</text>
<circle cx="484.80" cy="307.20" r="2.1" fill="#F0D465" />
<text x="492.70" y="309.10" font-size="5.2" text-anchor="start" fill="#333" >SC</text>
<circle cx="364.70" cy="344.40" r="1.65" fill="#40BECA" fill-opacity="0.85"/>
<circle cx="451.10" cy="387.60" r="1.65" fill="#40BECA" fill-opacity="0.85"/>
<circle cx="475.40" cy="410.00" r="1.65" fill="#E6C334" fill-opacity="0.85"/>
<circle cx="490.50" cy="413.50" r="1.65" fill="#E6C334" fill-opacity="0.85"/>
<circle cx="461.00" cy="444.20" r="1.65" fill="#E6C334" fill-opacity="0.85"/>
<circle cx="482.20" cy="445.70" r="1.65" fill="#E6C334" fill-opacity="0.85"/>
<circle cx="492.20" cy="448.70" r="1.65" fill="#40BECA" fill-opacity="0.85"/>
<circle cx="558.70" cy="383.70" r="1.65" fill="#40BECA" fill-opacity="0.85"/>
<circle cx="512.30" cy="394.00" r="1.65" fill="#40BECA" fill-opacity="0.85"/>
<circle cx="517.00" cy="406.30" r="1.65" fill="#40BECA" fill-opacity="0.85"/>
<circle cx="522.30" cy="410.60" r="1.65" fill="#40BECA" fill-opacity="0.85"/>
<circle cx="535.50" cy="431.40" r="1.65" fill="#40BECA" fill-opacity="0.85"/>
<circle cx="540.90" cy="435.20" r="1.65" fill="#E6C334" fill-opacity="0.85"/>
<circle cx="543.70" cy="437.40" r="1.65" fill="#E6C334" fill-opacity="0.85"/>
<circle cx="545.00" cy="441.30" r="1.65" fill="#40BECA" fill-opacity="0.85"/>
<circle cx="507.20" cy="441.40" r="1.65" fill="#40BECA" fill-opacity="0.85"/>
<circle cx="509.10" cy="442.30" r="1.65" fill="#40BECA" fill-opacity="0.85"/>
<circle cx="548.20" cy="444.20" r="1.65" fill="#E6C334" fill-opacity="0.85"/>
<circle cx="549.50" cy="446.50" r="1.65" fill="#40BECA" fill-opacity="0.85"/>
<circle cx="550.70" cy="447.80" r="1.65" fill="#E6C334" fill-opacity="0.85"/>
<circle cx="525.90" cy="447.00" r="1.65" fill="#40BECA" fill-opacity="0.85"/>
<circle cx="534.50" cy="450.90" r="1.65" fill="#40BECA" fill-opacity="0.85"/>
<circle cx="541.40" cy="452.70" r="1.65" fill="#E6C334" fill-opacity="0.85"/>
<circle cx="544.50" cy="453.50" r="1.65" fill="#E6C334" fill-opacity="0.85"/>
<circle cx="547.80" cy="452.00" r="1.65" fill="#40BECA" fill-opacity="0.85"/>
<circle cx="558.80" cy="423.30" r="1.65" fill="#40BECA" fill-opacity="0.85"/>
<circle cx="558.80" cy="426.50" r="1.65" fill="#40BECA" fill-opacity="0.85"/>
<circle cx="558.80" cy="429.70" r="1.65" fill="#40BECA" fill-opacity="0.85"/>
<circle cx="558.80" cy="433.00" r="1.65" fill="#40BECA" fill-opacity="0.85"/>
<circle cx="558.80" cy="436.20" r="1.65" fill="#40BECA" fill-opacity="0.85"/>
<circle cx="558.80" cy="439.20" r="1.65" fill="#40BECA" fill-opacity="0.85"/>
<circle cx="558.80" cy="441.00" r="1.65" fill="#E6C334" fill-opacity="0.85"/>
<circle cx="558.80" cy="443.00" r="1.65" fill="#E6C334" fill-opacity="0.85"/>
<circle cx="558.80" cy="445.00" r="1.65" fill="#E6C334" fill-opacity="0.85"/>
<circle cx="558.80" cy="447.00" r="1.65" fill="#E6C334" fill-opacity="0.85"/>
<circle cx="558.80" cy="449.00" r="1.65" fill="#E6C334" fill-opacity="0.85"/>
<circle cx="558.80" cy="451.00" r="1.65" fill="#E6C334" fill-opacity="0.85"/>
<circle cx="558.80" cy="453.00" r="1.65" fill="#E6C334" fill-opacity="0.85"/>
<circle cx="558.80" cy="455.00" r="1.65" fill="#E6C334" fill-opacity="0.85"/>
<circle cx="558.80" cy="457.00" r="1.65" fill="#E6C334" fill-opacity="0.85"/>
<circle cx="553.72" cy="456.42" r="1.65" fill="#E6C334" fill-opacity="0.85"/>
<circle cx="556.76" cy="456.76" r="1.65" fill="#E6C334" fill-opacity="0.85"/>
<circle cx="554.09" cy="458.01" r="1.65" fill="#E6C334" fill-opacity="0.85"/>
<circle cx="550.21" cy="457.68" r="1.65" fill="#40BECA" fill-opacity="0.85"/>
<circle cx="552.61" cy="454.74" r="1.65" fill="#E6C334" fill-opacity="0.85"/>
<circle cx="555.24" cy="453.08" r="1.65" fill="#E6C334" fill-opacity="0.85"/>
<circle cx="557.83" cy="456.66" r="1.65" fill="#E6C334" fill-opacity="0.85"/>
<circle cx="555.67" cy="449.72" r="1.65" fill="#40BECA" fill-opacity="0.85"/>
<circle cx="557.20" cy="451.09" r="1.65" fill="#E6C334" fill-opacity="0.85"/>
<circle cx="558.44" cy="450.66" r="1.65" fill="#E6C334" fill-opacity="0.85"/>
<circle cx="549.05" cy="458.61" r="1.65" fill="#E6C334" fill-opacity="0.85"/>
<circle cx="547.54" cy="458.69" r="1.65" fill="#E6C334" fill-opacity="0.85"/>
<circle cx="558.53" cy="457.94" r="1.65" fill="#E6C334" fill-opacity="0.85"/>
<circle cx="558.10" cy="451.64" r="1.65" fill="#E6C334" fill-opacity="0.85"/>
<circle cx="549.22" cy="455.03" r="1.65" fill="#E6C334" fill-opacity="0.85"/>
<circle cx="553.34" cy="456.08" r="1.65" fill="#E6C334" fill-opacity="0.85"/>
<circle cx="549.34" cy="457.19" r="1.65" fill="#40BECA" fill-opacity="0.85"/>
<circle cx="554.75" cy="450.85" r="1.65" fill="#40BECA" fill-opacity="0.85"/>
<circle cx="554.87" cy="449.57" r="1.65" fill="#E6C334" fill-opacity="0.85"/>
<circle cx="558.29" cy="452.58" r="1.65" fill="#40BECA" fill-opacity="0.85"/>
<circle cx="545.25" cy="456.88" r="1.65" fill="#E6C334" fill-opacity="0.85"/>
<circle cx="550.27" cy="457.41" r="1.65" fill="#40BECA" fill-opacity="0.85"/>
<circle cx="558.37" cy="450.97" r="1.65" fill="#E6C334" fill-opacity="0.85"/>
<circle cx="558.02" cy="458.42" r="1.65" fill="#E6C334" fill-opacity="0.85"/>
<circle cx="552.17" cy="457.93" r="1.65" fill="#E6C334" fill-opacity="0.85"/>
<circle cx="555.86" cy="450.08" r="1.65" fill="#E6C334" fill-opacity="0.85"/>
<circle cx="557.04" cy="449.37" r="1.65" fill="#E6C334" fill-opacity="0.85"/>
<circle cx="548.86" cy="456.03" r="1.65" fill="#E6C334" fill-opacity="0.85"/>
<circle cx="547.08" cy="455.89" r="1.65" fill="#40BECA" fill-opacity="0.85"/>
<circle cx="558.81" cy="454.34" r="1.65" fill="#40BECA" fill-opacity="0.85"/>
<rect x="460.4" y="337.7" width="86.10000000000002" height="52.80000000000001" fill="#D8D8D8" stroke="#8c8c8c" stroke-width="0.7"/>
<rect x="478.2" y="340.0" width="66.80000000000001" height="46.5" fill="#DADADA" stroke="#8a8a8a" stroke-width="0.6"/>
<line x1="477.20" y1="340.00" x2="478.20" y2="340.00" stroke="#555" stroke-width="0.5" />
<text x="476.90" y="340.85" font-size="2.5" text-anchor="end" fill="#333" font-weight="bold">8.00E-04</text>
<line x1="477.20" y1="345.81" x2="478.20" y2="345.81" stroke="#555" stroke-width="0.5" />
<text x="476.90" y="346.66" font-size="2.5" text-anchor="end" fill="#333" font-weight="bold">7.00E-04</text>
<line x1="477.20" y1="351.62" x2="478.20" y2="351.62" stroke="#555" stroke-width="0.5" />
<text x="476.90" y="352.48" font-size="2.5" text-anchor="end" fill="#333" font-weight="bold">6.00E-04</text>
<line x1="477.20" y1="357.44" x2="478.20" y2="357.44" stroke="#555" stroke-width="0.5" />
<text x="476.90" y="358.29" font-size="2.5" text-anchor="end" fill="#333" font-weight="bold">5.00E-04</text>
<line x1="477.20" y1="363.25" x2="478.20" y2="363.25" stroke="#555" stroke-width="0.5" />
<text x="476.90" y="364.10" font-size="2.5" text-anchor="end" fill="#333" font-weight="bold">4.00E-04</text>
<line x1="477.20" y1="369.06" x2="478.20" y2="369.06" stroke="#555" stroke-width="0.5" />
<text x="476.90" y="369.91" font-size="2.5" text-anchor="end" fill="#333" font-weight="bold">3.00E-04</text>
<line x1="477.20" y1="374.88" x2="478.20" y2="374.88" stroke="#555" stroke-width="0.5" />
<text x="476.90" y="375.73" font-size="2.5" text-anchor="end" fill="#333" font-weight="bold">2.00E-04</text>
<line x1="477.20" y1="380.69" x2="478.20" y2="380.69" stroke="#555" stroke-width="0.5" />
<text x="476.90" y="381.54" font-size="2.5" text-anchor="end" fill="#333" font-weight="bold">1.00E-04</text>
<line x1="477.20" y1="386.50" x2="478.20" y2="386.50" stroke="#555" stroke-width="0.5" />
<text x="476.90" y="387.35" font-size="2.5" text-anchor="end" fill="#333" font-weight="bold">0.00E+00</text>
<text x="466.27" y="363.25" font-size="2.8" textLength="21" lengthAdjust="spacingAndGlyphs" text-anchor="middle" fill="#222" transform="rotate(-90 466.27 363.25)">Average Length</text>
<line x1="478.20" y1="386.50" x2="545.00" y2="386.50" stroke="#555" stroke-width="0.6" />
<line x1="478.20" y1="340.00" x2="478.20" y2="386.50" stroke="#555" stroke-width="0.6" />
<line x1="511.60" y1="386.50" x2="511.60" y2="387.40" stroke="#555" stroke-width="0.5" />
<rect x="489.50" y="350.00" width="10.50" height="36.50" fill="#58C0CA" />
<line x1="494.75" y1="350.00" x2="494.75" y2="343.30" stroke="#8a8a8a" stroke-width="0.55" />
<line x1="493.95" y1="343.30" x2="495.55" y2="343.30" stroke="#8a8a8a" stroke-width="0.55" />
<text x="494.75" y="389.80" font-size="2.9" text-anchor="middle" fill="#333">G1</text>
<rect x="523.20" y="369.90" width="10.40" height="16.60" fill="#E6C655" />
<line x1="528.40" y1="369.90" x2="528.40" y2="366.50" stroke="#8a8a8a" stroke-width="0.55" />
<line x1="527.60" y1="366.50" x2="529.20" y2="366.50" stroke="#8a8a8a" stroke-width="0.55" />
<text x="528.40" y="389.80" font-size="2.9" text-anchor="middle" fill="#333">SC</text>
<path d="M511.30,344.00L513.90,344.00 M512.00,342.96L513.20,345.04 M513.20,342.96L512.00,345.04" stroke="#1a1a1a" stroke-width="0.9" stroke-linecap="round" fill="none"/>
<text transform="translate(20.9 513.5) scale(0.88 1)" font-size="20.9" fill="#111">E</text>
<rect x="37.40" y="576.70" width="213.30" height="124.10" fill="#D9D9D9" />
<line x1="47.10" y1="575.60" x2="241.50" y2="575.60" stroke="#8a8a8a" stroke-width="0.6" />
<polygon points="47.10,575.60 47.10,558.80 47.80,558.85 47.80,558.85 48.50,558.90 49.00,558.93 49.20,558.94 49.90,558.99 50.00,559.00 50.60,559.29 51.00,559.48 51.30,559.62 52.00,559.96 52.30,560.10 52.70,560.69 53.40,561.73 54.10,562.77 54.80,563.81 55.20,564.40 55.50,564.65 56.20,565.23 56.90,565.82 57.60,566.40 58.30,566.98 59.00,567.57 59.70,568.15 60.00,568.40 60.40,568.57 61.10,568.87 61.80,569.17 62.50,569.47 63.20,569.77 63.90,570.07 64.60,570.37 65.30,570.67 65.60,570.80 66.00,570.97 66.70,571.27 67.00,571.40 67.40,571.46 68.10,571.56 68.80,571.66 69.50,571.77 70.20,571.87 70.90,571.97 71.60,572.07 72.30,572.17 73.00,572.28 73.70,572.38 74.40,572.48 75.10,572.58 75.80,572.69 76.50,572.79 77.20,572.89 77.90,572.99 78.60,573.10 79.30,573.20 80.00,573.30 80.00,573.30 80.40,573.33 80.70,573.35 81.40,573.39 82.10,573.44 82.80,573.49 83.50,573.53 84.20,573.58 84.90,573.63 85.60,573.67 86.30,573.72 87.00,573.77 87.70,573.81 88.40,573.86 89.10,573.91 89.80,573.95 90.50,574.00 91.20,574.05 91.90,574.09 92.60,574.14 93.30,574.19 94.00,574.23 94.70,574.28 95.00,574.30 95.40,574.31 96.10,574.33 96.80,574.35 97.50,574.37 98.20,574.39 98.90,574.41 99.60,574.43 100.30,574.45 101.00,574.47 101.70,574.49 102.40,574.51 103.10,574.53 103.80,574.55 104.50,574.57 105.20,574.59 105.90,574.61 106.60,574.62 107.30,574.64 108.00,574.66 108.70,574.68 109.40,574.70 110.00,574.72 110.10,574.72 110.80,574.74 111.50,574.76 112.20,574.78 112.90,574.80 113.60,574.82 114.30,574.84 115.00,574.86 115.70,574.88 116.40,574.90 117.10,574.92 117.80,574.94 118.50,574.96 119.20,574.98 119.90,575.00 120.00,575.00 120.60,575.00 121.30,575.00 122.00,575.01 122.70,575.01 123.40,575.01 124.00,575.01 124.10,575.01 124.80,575.02 125.50,575.02 126.20,575.02 126.90,575.02 127.60,575.03 128.30,575.03 129.00,575.03 129.70,575.03 130.00,575.03 130.40,575.03 131.10,575.04 131.80,575.04 132.50,575.04 133.20,575.04 133.90,575.05 134.60,575.05 135.30,575.05 136.00,575.05 136.00,575.05 136.70,575.05 137.40,575.06 138.10,575.06 138.80,575.06 139.50,575.06 140.20,575.07 140.90,575.07 141.60,575.07 142.30,575.07 143.00,575.08 143.70,575.08 144.40,575.08 145.10,575.08 145.80,575.08 146.50,575.09 147.20,575.09 147.90,575.09 148.60,575.09 149.30,575.10 150.00,575.10 150.00,575.10 150.70,575.10 151.40,575.10 152.10,575.11 152.80,575.11 153.50,575.11 154.20,575.11 154.90,575.11 155.60,575.12 156.30,575.12 157.00,575.12 157.70,575.12 158.40,575.13 159.10,575.13 159.80,575.13 160.50,575.13 161.20,575.14 161.90,575.14 162.60,575.14 163.30,575.14 164.00,575.14 164.70,575.15 165.40,575.15 166.10,575.15 166.80,575.15 167.50,575.16 168.20,575.16 168.90,575.16 169.60,575.16 170.30,575.17 171.00,575.17 171.70,575.17 172.40,575.17 173.10,575.17 173.80,575.18 174.50,575.18 175.20,575.18 175.90,575.18 176.60,575.19 177.30,575.19 178.00,575.19 178.70,575.19 179.40,575.20 180.10,575.20 180.80,575.20 181.50,575.20 182.20,575.20 182.90,575.21 183.60,575.21 184.30,575.21 185.00,575.21 185.70,575.22 186.40,575.22 187.10,575.22 187.80,575.22 188.50,575.23 189.20,575.23 189.90,575.23 190.60,575.23 191.30,575.23 192.00,575.24 192.70,575.24 193.40,575.24 194.10,575.24 194.80,575.25 195.50,575.25 196.20,575.25 196.90,575.25 197.60,575.26 198.30,575.26 199.00,575.26 199.70,575.26 200.40,575.26 201.10,575.27 201.80,575.27 202.50,575.27 203.20,575.27 203.90,575.28 204.60,575.28 205.30,575.28 206.00,575.28 206.70,575.29 207.40,575.29 208.10,575.29 208.80,575.29 209.50,575.29 210.20,575.30 210.90,575.30 211.60,575.30 212.30,575.30 213.00,575.31 213.70,575.31 214.40,575.31 215.10,575.31 215.80,575.32 216.50,575.32 217.20,575.32 217.90,575.32 218.60,575.32 219.30,575.33 220.00,575.33 220.70,575.33 221.40,575.33 222.10,575.34 222.80,575.34 223.50,575.34 224.20,575.34 224.90,575.35 225.60,575.35 226.30,575.35 227.00,575.35 227.70,575.35 228.40,575.36 229.10,575.36 229.80,575.36 230.50,575.36 231.20,575.37 231.90,575.37 232.60,575.37 233.30,575.37 234.00,575.38 234.70,575.38 235.40,575.38 236.10,575.38 236.80,575.38 237.50,575.39 238.20,575.39 238.90,575.39 239.60,575.39 240.30,575.40 241.00,575.40 241.50,575.40 241.50,575.60" fill="#40BECA" stroke="#4a6a6a" stroke-width="0.3" stroke-opacity="0.35"/>
<polygon points="47.10,575.60 47.10,548.60 47.80,541.10 47.80,541.10 48.50,541.98 49.00,542.60 49.20,543.70 49.90,547.55 50.00,548.10 50.60,551.40 51.00,553.60 51.30,555.33 52.00,559.37 52.30,561.10 52.70,561.89 53.40,563.26 54.10,564.64 54.80,566.01 55.20,566.80 55.50,567.03 56.20,567.55 56.90,568.08 57.60,568.60 58.30,569.12 59.00,569.65 59.70,570.18 60.00,570.40 60.40,570.56 61.10,570.85 61.80,571.14 62.50,571.43 63.20,571.71 63.90,572.00 64.60,572.29 65.30,572.58 65.60,572.70 66.00,572.75 66.70,572.84 67.00,572.88 67.40,572.93 68.10,573.02 68.80,573.11 69.50,573.20 70.20,573.29 70.90,573.38 71.60,573.47 72.30,573.56 73.00,573.65 73.70,573.74 74.40,573.83 75.10,573.92 75.80,574.01 76.50,574.10 77.20,574.19 77.90,574.28 78.60,574.37 79.30,574.46 80.00,574.55 80.00,574.55 80.40,574.60 80.70,574.61 81.40,574.62 82.10,574.64 82.80,574.66 83.50,574.67 84.20,574.69 84.90,574.71 85.60,574.72 86.30,574.74 87.00,574.76 87.70,574.77 88.40,574.79 89.10,574.81 89.80,574.82 90.50,574.84 91.20,574.86 91.90,574.87 92.60,574.89 93.30,574.91 94.00,574.92 94.70,574.94 95.00,574.95 95.40,574.95 96.10,574.97 96.80,574.99 97.50,575.00 98.20,575.02 98.90,575.04 99.60,575.05 100.30,575.07 101.00,575.09 101.70,575.10 102.40,575.12 103.10,575.14 103.80,575.15 104.50,575.17 105.20,575.19 105.90,575.20 106.60,575.22 107.30,575.24 108.00,575.25 108.70,575.27 109.40,575.29 110.00,575.30 110.10,575.29 110.80,575.26 111.50,575.23 112.20,575.19 112.90,575.15 113.60,575.12 114.30,575.09 115.00,575.05 115.70,575.01 116.40,574.98 117.10,574.95 117.80,574.91 118.50,574.88 119.20,574.84 119.90,574.81 120.00,574.80 120.60,574.77 121.30,574.74 122.00,574.70 122.70,574.66 123.40,574.63 124.00,574.60 124.10,574.59 124.80,574.55 125.50,574.50 126.20,574.45 126.90,574.41 127.60,574.36 128.30,574.31 129.00,574.27 129.70,574.22 130.00,574.20 130.40,574.23 131.10,574.27 131.80,574.32 132.50,574.37 133.20,574.41 133.90,574.46 134.60,574.51 135.30,574.55 136.00,574.60 136.00,574.60 136.70,574.64 137.40,574.68 138.10,574.72 138.80,574.76 139.50,574.80 140.20,574.84 140.90,574.88 141.60,574.92 142.30,574.96 143.00,575.00 143.70,575.04 144.40,575.08 145.10,575.12 145.80,575.16 146.50,575.20 147.20,575.24 147.90,575.28 148.60,575.32 149.30,575.36 150.00,575.40 150.00,575.40 150.70,575.40 151.40,575.40 152.10,575.40 152.80,575.40 153.50,575.40 154.20,575.40 154.90,575.41 155.60,575.41 156.30,575.41 157.00,575.41 157.70,575.41 158.40,575.41 159.10,575.41 159.80,575.41 160.50,575.41 161.20,575.41 161.90,575.41 162.60,575.41 163.30,575.41 164.00,575.42 164.70,575.42 165.40,575.42 166.10,575.42 166.80,575.42 167.50,575.42 168.20,575.42 168.90,575.42 169.60,575.42 170.30,575.42 171.00,575.42 171.70,575.42 172.40,575.42 173.10,575.43 173.80,575.43 174.50,575.43 175.20,575.43 175.90,575.43 176.60,575.43 177.30,575.43 178.00,575.43 178.70,575.43 179.40,575.43 180.10,575.43 180.80,575.43 181.50,575.43 182.20,575.44 182.90,575.44 183.60,575.44 184.30,575.44 185.00,575.44 185.70,575.44 186.40,575.44 187.10,575.44 187.80,575.44 188.50,575.44 189.20,575.44 189.90,575.44 190.60,575.44 191.30,575.45 192.00,575.45 192.70,575.45 193.40,575.45 194.10,575.45 194.80,575.45 195.50,575.45 196.20,575.45 196.90,575.45 197.60,575.45 198.30,575.45 199.00,575.45 199.70,575.45 200.40,575.46 201.10,575.46 201.80,575.46 202.50,575.46 203.20,575.46 203.90,575.46 204.60,575.46 205.30,575.46 206.00,575.46 206.70,575.46 207.40,575.46 208.10,575.46 208.80,575.46 209.50,575.47 210.20,575.47 210.90,575.47 211.60,575.47 212.30,575.47 213.00,575.47 213.70,575.47 214.40,575.47 215.10,575.47 215.80,575.47 216.50,575.47 217.20,575.47 217.90,575.47 218.60,575.47 219.30,575.48 220.00,575.48 220.70,575.48 221.40,575.48 222.10,575.48 222.80,575.48 223.50,575.48 224.20,575.48 224.90,575.48 225.60,575.48 226.30,575.48 227.00,575.48 227.70,575.48 228.40,575.49 229.10,575.49 229.80,575.49 230.50,575.49 231.20,575.49 231.90,575.49 232.60,575.49 233.30,575.49 234.00,575.49 234.70,575.49 235.40,575.49 236.10,575.49 236.80,575.49 237.50,575.50 238.20,575.50 238.90,575.50 239.60,575.50 240.30,575.50 241.00,575.50 241.50,575.50 241.50,575.60" fill="#E6C334" stroke="#6a6a4a" stroke-width="0.3" stroke-opacity="0.35"/>
<polygon points="47.10,575.60 47.10,558.80 47.80,558.85 47.80,558.85 48.50,558.90 49.00,558.93 49.20,558.94 49.90,558.99 50.00,559.00 50.60,559.29 51.00,559.48 51.30,559.62 52.00,559.96 52.30,561.10 52.70,561.89 53.40,563.26 54.10,564.64 54.80,566.01 55.20,566.80 55.50,567.03 56.20,567.55 56.90,568.08 57.60,568.60 58.30,569.12 59.00,569.65 59.70,570.18 60.00,570.40 60.40,570.56 61.10,570.85 61.80,571.14 62.50,571.43 63.20,571.71 63.90,572.00 64.60,572.29 65.30,572.58 65.60,572.70 66.00,572.75 66.70,572.84 67.00,572.88 67.40,572.93 68.10,573.02 68.80,573.11 69.50,573.20 70.20,573.29 70.90,573.38 71.60,573.47 72.30,573.56 73.00,573.65 73.70,573.74 74.40,573.83 75.10,573.92 75.80,574.01 76.50,574.10 77.20,574.19 77.90,574.28 78.60,574.37 79.30,574.46 80.00,574.55 80.00,574.55 80.40,574.60 80.70,574.61 81.40,574.62 82.10,574.64 82.80,574.66 83.50,574.67 84.20,574.69 84.90,574.71 85.60,574.72 86.30,574.74 87.00,574.76 87.70,574.77 88.40,574.79 89.10,574.81 89.80,574.82 90.50,574.84 91.20,574.86 91.90,574.87 92.60,574.89 93.30,574.91 94.00,574.92 94.70,574.94 95.00,574.95 95.40,574.95 96.10,574.97 96.80,574.99 97.50,575.00 98.20,575.02 98.90,575.04 99.60,575.05 100.30,575.07 101.00,575.09 101.70,575.10 102.40,575.12 103.10,575.14 103.80,575.15 104.50,575.17 105.20,575.19 105.90,575.20 106.60,575.22 107.30,575.24 108.00,575.25 108.70,575.27 109.40,575.29 110.00,575.30 110.10,575.29 110.80,575.26 111.50,575.23 112.20,575.19 112.90,575.15 113.60,575.12 114.30,575.09 115.00,575.05 115.70,575.01 116.40,574.98 117.10,574.95 117.80,574.94 118.50,574.96 119.20,574.98 119.90,575.00 120.00,575.00 120.60,575.00 121.30,575.00 122.00,575.01 122.70,575.01 123.40,575.01 124.00,575.01 124.10,575.01 124.80,575.02 125.50,575.02 126.20,575.02 126.90,575.02 127.60,575.03 128.30,575.03 129.00,575.03 129.70,575.03 130.00,575.03 130.40,575.03 131.10,575.04 131.80,575.04 132.50,575.04 133.20,575.04 133.90,575.05 134.60,575.05 135.30,575.05 136.00,575.05 136.00,575.05 136.70,575.05 137.40,575.06 138.10,575.06 138.80,575.06 139.50,575.06 140.20,575.07 140.90,575.07 141.60,575.07 142.30,575.07 143.00,575.08 143.70,575.08 144.40,575.08 145.10,575.12 145.80,575.16 146.50,575.20 147.20,575.24 147.90,575.28 148.60,575.32 149.30,575.36 150.00,575.40 150.00,575.40 150.70,575.40 151.40,575.40 152.10,575.40 152.80,575.40 153.50,575.40 154.20,575.40 154.90,575.41 155.60,575.41 156.30,575.41 157.00,575.41 157.70,575.41 158.40,575.41 159.10,575.41 159.80,575.41 160.50,575.41 161.20,575.41 161.90,575.41 162.60,575.41 163.30,575.41 164.00,575.42 164.70,575.42 165.40,575.42 166.10,575.42 166.80,575.42 167.50,575.42 168.20,575.42 168.90,575.42 169.60,575.42 170.30,575.42 171.00,575.42 171.70,575.42 172.40,575.42 173.10,575.43 173.80,575.43 174.50,575.43 175.20,575.43 175.90,575.43 176.60,575.43 177.30,575.43 178.00,575.43 178.70,575.43 179.40,575.43 180.10,575.43 180.80,575.43 181.50,575.43 182.20,575.44 182.90,575.44 183.60,575.44 184.30,575.44 185.00,575.44 185.70,575.44 186.40,575.44 187.10,575.44 187.80,575.44 188.50,575.44 189.20,575.44 189.90,575.44 190.60,575.44 191.30,575.45 192.00,575.45 192.70,575.45 193.40,575.45 194.10,575.45 194.80,575.45 195.50,575.45 196.20,575.45 196.90,575.45 197.60,575.45 198.30,575.45 199.00,575.45 199.70,575.45 200.40,575.46 201.10,575.46 201.80,575.46 202.50,575.46 203.20,575.46 203.90,575.46 204.60,575.46 205.30,575.46 206.00,575.46 206.70,575.46 207.40,575.46 208.10,575.46 208.80,575.46 209.50,575.47 210.20,575.47 210.90,575.47 211.60,575.47 212.30,575.47 213.00,575.47 213.70,575.47 214.40,575.47 215.10,575.47 215.80,575.47 216.50,575.47 217.20,575.47 217.90,575.47 218.60,575.47 219.30,575.48 220.00,575.48 220.70,575.48 221.40,575.48 222.10,575.48 222.80,575.48 223.50,575.48 224.20,575.48 224.90,575.48 225.60,575.48 226.30,575.48 227.00,575.48 227.70,575.48 228.40,575.49 229.10,575.49 229.80,575.49 230.50,575.49 231.20,575.49 231.90,575.49 232.60,575.49 233.30,575.49 234.00,575.49 234.70,575.49 235.40,575.49 236.10,575.49 236.80,575.49 237.50,575.50 238.20,575.50 238.90,575.50 239.60,575.50 240.30,575.50 241.00,575.50 241.50,575.50 241.50,575.60" fill="#B8BC40"/>
<line x1="253.20" y1="581.30" x2="253.20" y2="695.70" stroke="#a0a0a0" stroke-width="0.7" />
<polygon points="253.20,581.30 253.30,581.30 253.30,582.00 253.30,582.70 253.31,583.40 253.31,584.10 253.31,584.80 253.31,585.50 253.32,586.20 253.32,586.90 253.32,587.60 253.32,588.30 253.33,589.00 253.33,589.70 253.33,590.40 253.33,591.10 253.34,591.80 253.34,592.50 253.34,593.20 253.34,593.90 253.34,594.60 253.35,595.30 253.35,596.00 253.35,596.70 253.35,597.40 253.36,598.10 253.36,598.80 253.36,599.50 253.36,600.20 253.37,600.90 253.37,601.60 253.37,602.30 253.37,603.00 253.38,603.70 253.38,604.40 253.38,605.10 253.38,605.80 253.39,606.50 253.39,607.20 253.39,607.90 253.39,608.60 253.39,609.30 253.40,610.00 253.40,610.70 253.40,611.40 253.40,612.10 253.41,612.80 253.41,613.50 253.41,614.20 253.41,614.90 253.42,615.60 253.42,616.30 253.42,617.00 253.42,617.70 253.43,618.40 253.43,619.10 253.43,619.80 253.43,620.50 253.43,621.20 253.44,621.90 253.44,622.60 253.44,623.30 253.44,624.00 253.45,624.70 253.45,625.40 253.45,626.10 253.45,626.80 253.46,627.50 253.46,628.20 253.46,628.90 253.46,629.60 253.47,630.30 253.47,631.00 253.47,631.70 253.47,632.40 253.48,633.10 253.48,633.80 253.48,634.50 253.48,635.20 253.48,635.90 253.49,636.60 253.49,637.30 253.49,638.00 253.49,638.70 253.50,639.40 253.50,640.10 253.50,640.80 253.50,641.50 253.51,642.20 253.51,642.90 253.51,643.60 253.51,644.30 253.52,645.00 253.52,645.70 253.52,646.40 253.52,647.10 253.52,647.80 253.53,648.50 253.53,649.20 253.53,649.90 253.53,650.00 253.53,650.60 253.54,651.30 253.54,652.00 253.54,652.70 253.54,653.40 253.55,654.10 253.55,654.80 253.55,655.50 253.55,656.00 253.55,656.20 253.56,656.90 253.56,657.60 253.56,658.30 253.56,659.00 253.57,659.70 253.57,660.00 253.57,660.40 253.57,661.10 253.57,661.80 253.57,662.50 253.58,663.20 253.58,663.90 253.58,664.60 253.58,665.30 253.59,666.00 253.59,666.70 253.59,667.40 253.59,668.10 253.60,668.80 253.60,669.50 253.60,670.00 253.62,670.20 253.67,670.90 253.72,671.60 253.78,672.30 253.83,673.00 253.89,673.70 253.94,674.40 253.99,675.00 254.00,675.10 254.05,675.80 254.11,676.50 254.16,677.20 254.20,677.70 254.24,677.90 254.40,678.60 254.55,679.30 254.70,680.00 254.85,680.70 255.00,681.40 255.16,682.10 255.31,682.80 255.46,683.50 255.50,683.70 255.61,684.20 255.70,684.60 255.82,684.90 256.10,685.60 256.39,686.30 256.67,687.00 256.95,687.70 257.08,688.00 257.24,688.40 257.40,688.80 257.80,689.10 258.75,689.80 259.69,690.50 260.63,691.20 260.90,691.40 262.24,691.90 264.13,692.60 265.20,693.00 266.00,693.30 267.87,694.00 267.87,694.00 269.20,694.50 269.53,694.70 270.53,695.30 270.70,695.40 271.20,695.70 253.20,695.70" fill="#40BECA" stroke="#4a6a6a" stroke-width="0.3" stroke-opacity="0.35"/>
<polygon points="253.20,581.30 253.20,581.30 253.21,582.00 253.21,582.70 253.22,583.40 253.22,584.10 253.23,584.80 253.23,585.50 253.24,586.20 253.24,586.90 253.25,587.60 253.25,588.30 253.26,589.00 253.26,589.70 253.27,590.40 253.27,591.10 253.28,591.80 253.28,592.50 253.29,593.20 253.29,593.90 253.30,594.60 253.30,595.30 253.31,596.00 253.31,596.70 253.32,597.40 253.32,598.10 253.33,598.80 253.33,599.50 253.34,600.20 253.34,600.90 253.35,601.60 253.35,602.30 253.36,603.00 253.36,603.70 253.37,604.40 253.37,605.10 253.38,605.80 253.38,606.50 253.39,607.20 253.39,607.90 253.40,608.60 253.40,609.30 253.41,610.00 253.41,610.70 253.42,611.40 253.42,612.10 253.43,612.80 253.43,613.50 253.44,614.20 253.44,614.90 253.45,615.60 253.45,616.30 253.46,617.00 253.46,617.70 253.47,618.40 253.48,619.10 253.48,619.80 253.49,620.50 253.49,621.20 253.50,621.90 253.50,622.60 253.51,623.30 253.51,624.00 253.52,624.70 253.52,625.40 253.53,626.10 253.53,626.80 253.54,627.50 253.54,628.20 253.55,628.90 253.55,629.60 253.56,630.30 253.56,631.00 253.57,631.70 253.57,632.40 253.58,633.10 253.58,633.80 253.59,634.50 253.59,635.20 253.60,635.90 253.60,636.60 253.61,637.30 253.61,638.00 253.62,638.70 253.62,639.40 253.63,640.10 253.63,640.80 253.64,641.50 253.64,642.20 253.65,642.90 253.65,643.60 253.66,644.30 253.66,645.00 253.67,645.70 253.67,646.40 253.68,647.10 253.68,647.80 253.69,648.50 253.69,649.20 253.70,649.90 253.70,650.00 253.75,650.60 253.81,651.30 253.87,652.00 253.93,652.70 253.98,653.40 254.04,654.10 254.10,654.80 254.16,655.50 254.20,656.00 254.16,656.20 254.04,656.90 253.92,657.60 253.80,658.30 253.67,659.00 253.55,659.70 253.50,660.00 253.51,660.40 253.51,661.10 253.52,661.80 253.53,662.50 253.54,663.20 253.55,663.90 253.56,664.60 253.57,665.30 253.58,666.00 253.59,666.70 253.60,667.40 253.61,668.10 253.62,668.80 253.63,669.50 253.63,670.00 253.64,670.20 253.65,670.90 253.65,671.60 253.66,672.30 253.67,673.00 253.68,673.70 253.69,674.40 253.70,675.00 253.70,675.10 253.73,675.80 253.75,676.50 253.78,677.20 253.79,677.70 253.80,677.90 253.82,678.60 253.85,679.30 253.87,680.00 253.90,680.70 253.92,681.40 253.94,682.10 253.97,682.80 253.99,683.50 254.00,683.70 254.23,684.20 254.42,684.60 254.56,684.90 254.88,685.60 255.21,686.30 255.53,687.00 255.86,687.70 256.00,688.00 256.29,688.40 256.59,688.80 256.81,689.10 257.32,689.80 257.84,690.50 258.35,691.20 258.50,691.40 260.22,691.90 262.63,692.60 264.00,693.00 267.36,693.30 275.20,694.00 275.20,694.00 281.55,694.50 284.08,694.70 291.70,695.30 291.70,695.40 291.70,695.70 253.20,695.70" fill="#E6C334" stroke="#6a6a4a" stroke-width="0.3" stroke-opacity="0.35"/>
<polygon points="253.20,581.30 253.20,581.30 253.21,582.00 253.21,582.70 253.22,583.40 253.22,584.10 253.23,584.80 253.23,585.50 253.24,586.20 253.24,586.90 253.25,587.60 253.25,588.30 253.26,589.00 253.26,589.70 253.27,590.40 253.27,591.10 253.28,591.80 253.28,592.50 253.29,593.20 253.29,593.90 253.30,594.60 253.30,595.30 253.31,596.00 253.31,596.70 253.32,597.40 253.32,598.10 253.33,598.80 253.33,599.50 253.34,600.20 253.34,600.90 253.35,601.60 253.35,602.30 253.36,603.00 253.36,603.70 253.37,604.40 253.37,605.10 253.38,605.80 253.38,606.50 253.39,607.20 253.39,607.90 253.39,608.60 253.39,609.30 253.40,610.00 253.40,610.70 253.40,611.40 253.40,612.10 253.41,612.80 253.41,613.50 253.41,614.20 253.41,614.90 253.42,615.60 253.42,616.30 253.42,617.00 253.42,617.70 253.43,618.40 253.43,619.10 253.43,619.80 253.43,620.50 253.43,621.20 253.44,621.90 253.44,622.60 253.44,623.30 253.44,624.00 253.45,624.70 253.45,625.40 253.45,626.10 253.45,626.80 253.46,627.50 253.46,628.20 253.46,628.90 253.46,629.60 253.47,630.30 253.47,631.00 253.47,631.70 253.47,632.40 253.48,633.10 253.48,633.80 253.48,634.50 253.48,635.20 253.48,635.90 253.49,636.60 253.49,637.30 253.49,638.00 253.49,638.70 253.50,639.40 253.50,640.10 253.50,640.80 253.50,641.50 253.51,642.20 253.51,642.90 253.51,643.60 253.51,644.30 253.52,645.00 253.52,645.70 253.52,646.40 253.52,647.10 253.52,647.80 253.53,648.50 253.53,649.20 253.53,649.90 253.53,650.00 253.53,650.60 253.54,651.30 253.54,652.00 253.54,652.70 253.54,653.40 253.55,654.10 253.55,654.80 253.55,655.50 253.55,656.00 253.55,656.20 253.56,656.90 253.56,657.60 253.56,658.30 253.56,659.00 253.55,659.70 253.50,660.00 253.51,660.40 253.51,661.10 253.52,661.80 253.53,662.50 253.54,663.20 253.55,663.90 253.56,664.60 253.57,665.30 253.58,666.00 253.59,666.70 253.59,667.40 253.59,668.10 253.60,668.80 253.60,669.50 253.60,670.00 253.62,670.20 253.65,670.90 253.65,671.60 253.66,672.30 253.67,673.00 253.68,673.70 253.69,674.40 253.70,675.00 253.70,675.10 253.73,675.80 253.75,676.50 253.78,677.20 253.79,677.70 253.80,677.90 253.82,678.60 253.85,679.30 253.87,680.00 253.90,680.70 253.92,681.40 253.94,682.10 253.97,682.80 253.99,683.50 254.00,683.70 254.23,684.20 254.42,684.60 254.56,684.90 254.88,685.60 255.21,686.30 255.53,687.00 255.86,687.70 256.00,688.00 256.29,688.40 256.59,688.80 256.81,689.10 257.32,689.80 257.84,690.50 258.35,691.20 258.50,691.40 260.22,691.90 262.63,692.60 264.00,693.00 266.00,693.30 267.87,694.00 267.87,694.00 269.20,694.50 269.53,694.70 270.53,695.30 270.70,695.40 271.20,695.70 253.20,695.70" fill="#B8BC40"/>
<line x1="253.20" y1="581.30" x2="253.20" y2="695.70" stroke="#a0a0a0" stroke-width="0.7"/>
<line x1="37.40" y1="576.70" x2="37.40" y2="700.80" stroke="#7a7a7a" stroke-width="1.0" />
<line x1="37.40" y1="700.80" x2="250.70" y2="700.80" stroke="#9a9a9a" stroke-width="1.2" />
<line x1="35.40" y1="695.40" x2="37.40" y2="695.40" stroke="#7a7a7a" stroke-width="0.8" />
<text x="35.60" y="697.30" font-size="5.6" text-anchor="end" fill="#333" >0e+00</text>
<line x1="35.40" y1="663.67" x2="37.40" y2="663.67" stroke="#7a7a7a" stroke-width="0.8" />
<text x="35.60" y="665.57" font-size="5.6" text-anchor="end" fill="#333" >1e-05</text>
<line x1="35.40" y1="631.94" x2="37.40" y2="631.94" stroke="#7a7a7a" stroke-width="0.8" />
<text x="35.60" y="633.84" font-size="5.6" text-anchor="end" fill="#333" >2e-05</text>
<line x1="35.40" y1="600.21" x2="37.40" y2="600.21" stroke="#7a7a7a" stroke-width="0.8" />
<text x="35.60" y="602.11" font-size="5.6" text-anchor="end" fill="#333" >3e-05</text>
<line x1="48.90" y1="700.80" x2="48.90" y2="702.80" stroke="#7a7a7a" stroke-width="0.8" />
<text x="48.90" y="706.60" font-size="5.6" text-anchor="middle" fill="#333" >0e+00</text>
<line x1="97.32" y1="700.80" x2="97.32" y2="702.80" stroke="#7a7a7a" stroke-width="0.8" />
<text x="97.32" y="706.60" font-size="5.6" text-anchor="middle" fill="#333" >2e-04</text>
<line x1="145.74" y1="700.80" x2="145.74" y2="702.80" stroke="#7a7a7a" stroke-width="0.8" />
<text x="145.74" y="706.60" font-size="5.6" text-anchor="middle" fill="#333" >4e-04</text>
<line x1="194.16" y1="700.80" x2="194.16" y2="702.80" stroke="#7a7a7a" stroke-width="0.8" />
<text x="194.16" y="706.60" font-size="5.6" text-anchor="middle" fill="#333" >6e-04</text>
<line x1="242.58" y1="700.80" x2="242.58" y2="702.80" stroke="#7a7a7a" stroke-width="0.8" />
<text x="242.58" y="706.60" font-size="5.6" text-anchor="middle" fill="#333" >8e-04</text>
<text x="147.00" y="715.20" font-size="6.6" text-anchor="middle" fill="#111" >Length</text>
<text x="16.00" y="633.00" font-size="6.5" text-anchor="middle" fill="#111" transform="rotate(-90 16.0 633)">Desaturation</text>
<text x="125.00" y="546.80" font-size="6.6" text-anchor="start" fill="#222" >Cell</text>
<circle cx="144.60" cy="544.60" r="2.1" fill="#66CDD7" />
<text x="152.50" y="546.50" font-size="5.2" text-anchor="start" fill="#333" >G1</text>
<circle cx="165.20" cy="544.60" r="2.1" fill="#F0D465" />
<text x="173.10" y="546.50" font-size="5.2" text-anchor="start" fill="#333" >SC</text>
<circle cx="157.40" cy="582.00" r="1.65" fill="#40BECA" fill-opacity="0.85"/>
<circle cx="107.10" cy="597.60" r="1.65" fill="#40BECA" fill-opacity="0.85"/>
<circle cx="129.60" cy="606.20" r="1.65" fill="#40BECA" fill-opacity="0.85"/>
<circle cx="174.50" cy="603.20" r="1.65" fill="#40BECA" fill-opacity="0.85"/>
<circle cx="95.60" cy="625.10" r="1.65" fill="#40BECA" fill-opacity="0.85"/>
<circle cx="101.80" cy="653.70" r="1.65" fill="#40BECA" fill-opacity="0.85"/>
<circle cx="79.40" cy="650.90" r="1.65" fill="#40BECA" fill-opacity="0.85"/>
<circle cx="69.00" cy="657.50" r="1.65" fill="#40BECA" fill-opacity="0.85"/>
<circle cx="71.10" cy="656.90" r="1.65" fill="#E6C334" fill-opacity="0.85"/>
<circle cx="75.60" cy="656.30" r="1.65" fill="#E6C334" fill-opacity="0.85"/>
<circle cx="74.40" cy="658.10" r="1.65" fill="#40BECA" fill-opacity="0.85"/>
<circle cx="83.00" cy="658.60" r="1.65" fill="#E6C334" fill-opacity="0.85"/>
<circle cx="77.40" cy="664.50" r="1.65" fill="#40BECA" fill-opacity="0.85"/>
<circle cx="89.70" cy="666.30" r="1.65" fill="#40BECA" fill-opacity="0.85"/>
<circle cx="71.10" cy="669.30" r="1.65" fill="#E6C334" fill-opacity="0.85"/>
<circle cx="83.00" cy="671.00" r="1.65" fill="#40BECA" fill-opacity="0.85"/>
<circle cx="59.90" cy="670.50" r="1.65" fill="#40BECA" fill-opacity="0.85"/>
<circle cx="62.30" cy="670.50" r="1.65" fill="#40BECA" fill-opacity="0.85"/>
<circle cx="66.40" cy="673.50" r="1.65" fill="#E6C334" fill-opacity="0.85"/>
<circle cx="66.40" cy="674.70" r="1.65" fill="#E6C334" fill-opacity="0.85"/>
<circle cx="72.70" cy="675.90" r="1.65" fill="#E6C334" fill-opacity="0.85"/>
<circle cx="63.40" cy="676.90" r="1.65" fill="#40BECA" fill-opacity="0.85"/>
<circle cx="57.50" cy="677.90" r="1.65" fill="#E6C334" fill-opacity="0.85"/>
<circle cx="69.40" cy="678.50" r="1.65" fill="#40BECA" fill-opacity="0.85"/>
<circle cx="67.60" cy="680.20" r="1.65" fill="#40BECA" fill-opacity="0.85"/>
<circle cx="66.80" cy="681.40" r="1.65" fill="#40BECA" fill-opacity="0.85"/>
<circle cx="56.70" cy="680.80" r="1.65" fill="#40BECA" fill-opacity="0.85"/>
<circle cx="55.80" cy="682.00" r="1.65" fill="#40BECA" fill-opacity="0.85"/>
<circle cx="53.40" cy="682.60" r="1.65" fill="#40BECA" fill-opacity="0.85"/>
<circle cx="63.40" cy="684.00" r="1.65" fill="#40BECA" fill-opacity="0.85"/>
<circle cx="60.50" cy="685.30" r="1.65" fill="#40BECA" fill-opacity="0.85"/>
<circle cx="76.50" cy="684.60" r="1.65" fill="#40BECA" fill-opacity="0.85"/>
<circle cx="55.20" cy="685.60" r="1.65" fill="#E6C334" fill-opacity="0.85"/>
<circle cx="65.50" cy="688.50" r="1.65" fill="#40BECA" fill-opacity="0.85"/>
<circle cx="60.50" cy="690.30" r="1.65" fill="#E6C334" fill-opacity="0.85"/>
<circle cx="59.30" cy="691.10" r="1.65" fill="#40BECA" fill-opacity="0.85"/>
<circle cx="68.80" cy="695.60" r="1.65" fill="#40BECA" fill-opacity="0.85"/>
<circle cx="71.50" cy="695.60" r="1.65" fill="#E6C334" fill-opacity="0.85"/>
<circle cx="75.60" cy="695.60" r="1.65" fill="#40BECA" fill-opacity="0.85"/>
<circle cx="77.00" cy="695.60" r="1.65" fill="#40BECA" fill-opacity="0.85"/>
<circle cx="86.50" cy="695.60" r="1.65" fill="#E6C334" fill-opacity="0.85"/>
<circle cx="93.40" cy="695.60" r="1.65" fill="#40BECA" fill-opacity="0.85"/>
<circle cx="124.00" cy="695.40" r="1.65" fill="#E6C334" fill-opacity="0.85"/>
<circle cx="131.00" cy="695.40" r="1.65" fill="#E6C334" fill-opacity="0.85"/>
<circle cx="136.20" cy="695.40" r="1.65" fill="#40BECA" fill-opacity="0.85"/>
<circle cx="168.30" cy="695.40" r="1.65" fill="#40BECA" fill-opacity="0.85"/>
<circle cx="241.30" cy="695.40" r="1.65" fill="#40BECA" fill-opacity="0.85"/>
<circle cx="49.84" cy="695.08" r="1.65" fill="#40BECA" fill-opacity="0.85"/>
<circle cx="52.47" cy="694.46" r="1.65" fill="#E6C334" fill-opacity="0.85"/>
<circle cx="54.63" cy="693.96" r="1.65" fill="#E6C334" fill-opacity="0.85"/>
<circle cx="57.52" cy="693.28" r="1.65" fill="#E6C334" fill-opacity="0.85"/>
<circle cx="60.70" cy="692.54" r="1.65" fill="#40BECA" fill-opacity="0.85"/>
<circle cx="62.22" cy="692.18" r="1.65" fill="#40BECA" fill-opacity="0.85"/>
<circle cx="65.21" cy="691.48" r="1.65" fill="#40BECA" fill-opacity="0.85"/>
<circle cx="49.44" cy="694.70" r="1.65" fill="#40BECA" fill-opacity="0.85"/>
<circle cx="51.78" cy="693.55" r="1.65" fill="#E6C334" fill-opacity="0.85"/>
<circle cx="55.12" cy="691.91" r="1.65" fill="#E6C334" fill-opacity="0.85"/>
<circle cx="57.09" cy="690.95" r="1.65" fill="#40BECA" fill-opacity="0.85"/>
<circle cx="58.89" cy="690.07" r="1.65" fill="#40BECA" fill-opacity="0.85"/>
<circle cx="61.26" cy="688.91" r="1.65" fill="#40BECA" fill-opacity="0.85"/>
<circle cx="63.90" cy="687.61" r="1.65" fill="#40BECA" fill-opacity="0.85"/>
<circle cx="49.66" cy="693.95" r="1.65" fill="#E6C334" fill-opacity="0.85"/>
<circle cx="51.78" cy="692.26" r="1.65" fill="#40BECA" fill-opacity="0.85"/>
<circle cx="53.44" cy="690.93" r="1.65" fill="#40BECA" fill-opacity="0.85"/>
<circle cx="55.81" cy="689.04" r="1.65" fill="#E6C334" fill-opacity="0.85"/>
<circle cx="58.10" cy="687.21" r="1.65" fill="#40BECA" fill-opacity="0.85"/>
<circle cx="60.14" cy="685.58" r="1.65" fill="#40BECA" fill-opacity="0.85"/>
<circle cx="62.51" cy="683.68" r="1.65" fill="#40BECA" fill-opacity="0.85"/>
<circle cx="49.38" cy="693.51" r="1.65" fill="#40BECA" fill-opacity="0.85"/>
<circle cx="50.96" cy="691.63" r="1.65" fill="#40BECA" fill-opacity="0.85"/>
<circle cx="53.09" cy="689.12" r="1.65" fill="#40BECA" fill-opacity="0.85"/>
<circle cx="54.28" cy="687.72" r="1.65" fill="#E6C334" fill-opacity="0.85"/>
<circle cx="56.42" cy="685.20" r="1.65" fill="#E6C334" fill-opacity="0.85"/>
<circle cx="58.36" cy="682.91" r="1.65" fill="#E6C334" fill-opacity="0.85"/>
<circle cx="60.03" cy="680.93" r="1.65" fill="#E6C334" fill-opacity="0.85"/>
<circle cx="48.68" cy="693.70" r="1.65" fill="#40BECA" fill-opacity="0.85"/>
<circle cx="50.09" cy="691.22" r="1.65" fill="#E6C334" fill-opacity="0.85"/>
<circle cx="51.46" cy="688.81" r="1.65" fill="#40BECA" fill-opacity="0.85"/>
<circle cx="53.01" cy="686.08" r="1.65" fill="#E6C334" fill-opacity="0.85"/>
<circle cx="54.60" cy="683.27" r="1.65" fill="#E6C334" fill-opacity="0.85"/>
<circle cx="55.71" cy="681.32" r="1.65" fill="#E6C334" fill-opacity="0.85"/>
<circle cx="57.25" cy="678.61" r="1.65" fill="#40BECA" fill-opacity="0.85"/>
<circle cx="47.50" cy="695.60" r="1.65" fill="#E6C334" fill-opacity="0.85"/>
<circle cx="49.40" cy="695.60" r="1.65" fill="#E6C334" fill-opacity="0.85"/>
<circle cx="51.30" cy="695.60" r="1.65" fill="#40BECA" fill-opacity="0.85"/>
<circle cx="53.20" cy="695.60" r="1.65" fill="#40BECA" fill-opacity="0.85"/>
<circle cx="55.10" cy="695.60" r="1.65" fill="#E6C334" fill-opacity="0.85"/>
<circle cx="57.00" cy="695.60" r="1.65" fill="#E6C334" fill-opacity="0.85"/>
<circle cx="58.90" cy="695.60" r="1.65" fill="#40BECA" fill-opacity="0.85"/>
<circle cx="60.80" cy="695.60" r="1.65" fill="#40BECA" fill-opacity="0.85"/>
<circle cx="62.70" cy="695.60" r="1.65" fill="#40BECA" fill-opacity="0.85"/>
<circle cx="64.60" cy="695.60" r="1.65" fill="#40BECA" fill-opacity="0.85"/>
<rect x="143.1" y="609.0" width="109.6" height="62.39999999999998" fill="#D8D8D8" stroke="#8c8c8c" stroke-width="0.7"/>
<rect x="165.2" y="612.0" width="85.5" height="53.799999999999955" fill="#DADADA" stroke="#8a8a8a" stroke-width="0.6"/>
<line x1="164.20" y1="612.00" x2="165.20" y2="612.00" stroke="#555" stroke-width="0.5" />
<text x="163.90" y="612.85" font-size="2.5" text-anchor="end" fill="#333" font-weight="bold">4.00E-06</text>
<line x1="164.20" y1="618.73" x2="165.20" y2="618.73" stroke="#555" stroke-width="0.5" />
<text x="163.90" y="619.58" font-size="2.5" text-anchor="end" fill="#333" font-weight="bold">3.50E-06</text>
<line x1="164.20" y1="625.45" x2="165.20" y2="625.45" stroke="#555" stroke-width="0.5" />
<text x="163.90" y="626.30" font-size="2.5" text-anchor="end" fill="#333" font-weight="bold">3.00E-06</text>
<line x1="164.20" y1="632.17" x2="165.20" y2="632.17" stroke="#555" stroke-width="0.5" />
<text x="163.90" y="633.02" font-size="2.5" text-anchor="end" fill="#333" font-weight="bold">2.50E-06</text>
<line x1="164.20" y1="638.90" x2="165.20" y2="638.90" stroke="#555" stroke-width="0.5" />
<text x="163.90" y="639.75" font-size="2.5" text-anchor="end" fill="#333" font-weight="bold">2.00E-06</text>
<line x1="164.20" y1="645.62" x2="165.20" y2="645.62" stroke="#555" stroke-width="0.5" />
<text x="163.90" y="646.48" font-size="2.5" text-anchor="end" fill="#333" font-weight="bold">1.50E-06</text>
<line x1="164.20" y1="652.35" x2="165.20" y2="652.35" stroke="#555" stroke-width="0.5" />
<text x="163.90" y="653.20" font-size="2.5" text-anchor="end" fill="#333" font-weight="bold">1.00E-06</text>
<line x1="164.20" y1="659.07" x2="165.20" y2="659.07" stroke="#555" stroke-width="0.5" />
<text x="163.90" y="659.92" font-size="2.5" text-anchor="end" fill="#333" font-weight="bold">5.00E-07</text>
<line x1="164.20" y1="665.80" x2="165.20" y2="665.80" stroke="#555" stroke-width="0.5" />
<text x="163.90" y="666.65" font-size="2.5" text-anchor="end" fill="#333" font-weight="bold">0.00E+00</text>
<text x="150.39" y="638.90" font-size="2.8" textLength="21" lengthAdjust="spacingAndGlyphs" text-anchor="middle" fill="#222" transform="rotate(-90 150.39 638.90)">Desaturation</text>
<line x1="165.20" y1="665.80" x2="250.70" y2="665.80" stroke="#555" stroke-width="0.6" />
<line x1="165.20" y1="612.00" x2="165.20" y2="665.80" stroke="#555" stroke-width="0.6" />
<line x1="207.95" y1="665.80" x2="207.95" y2="666.70" stroke="#555" stroke-width="0.5" />
<rect x="175.30" y="624.80" width="21.60" height="41.00" fill="#58C0CA" />
<line x1="186.10" y1="624.80" x2="186.10" y2="616.00" stroke="#8a8a8a" stroke-width="0.55" />
<line x1="185.30" y1="616.00" x2="186.90" y2="616.00" stroke="#8a8a8a" stroke-width="0.55" />
<text x="186.10" y="669.10" font-size="2.9" text-anchor="middle" fill="#333">G1</text>
<rect x="218.30" y="649.70" width="21.60" height="16.10" fill="#E6C655" />
<line x1="229.10" y1="649.70" x2="229.10" y2="645.50" stroke="#8a8a8a" stroke-width="0.55" />
<line x1="228.30" y1="645.50" x2="229.90" y2="645.50" stroke="#8a8a8a" stroke-width="0.55" />
<text x="229.10" y="669.10" font-size="2.9" text-anchor="middle" fill="#333">SC</text>
<path d="M204.20,618.40L207.40,618.40 M205.17,617.32L206.42,619.48 M206.42,617.32L205.17,619.48" stroke="#1a1a1a" stroke-width="0.9" stroke-linecap="round" fill="none"/>
<path d="M207.60,618.40L210.80,618.40 M208.57,617.32L209.82,619.48 M209.82,617.32L208.57,619.48" stroke="#1a1a1a" stroke-width="0.9" stroke-linecap="round" fill="none"/>
<path d="M211.00,618.40L214.20,618.40 M211.97,617.32L213.22,619.48 M213.22,617.32L211.97,619.48" stroke="#1a1a1a" stroke-width="0.9" stroke-linecap="round" fill="none"/>
<text transform="translate(361.5 513.8) scale(0.8 1)" font-size="21.4" fill="#111">F</text>
<rect x="359.30" y="526.80" width="244.20" height="220.50" fill="#EBEBEB" />
<line x1="421.98" y1="526.80" x2="421.98" y2="747.30" stroke="#F2F2F2" stroke-width="0.5" />
<line x1="498.74" y1="526.80" x2="498.74" y2="747.30" stroke="#F2F2F2" stroke-width="0.5" />
<line x1="575.50" y1="526.80" x2="575.50" y2="747.30" stroke="#F2F2F2" stroke-width="0.5" />
<line x1="359.30" y1="544.07" x2="603.50" y2="544.07" stroke="#F2F2F2" stroke-width="0.5" />
<line x1="359.30" y1="598.16" x2="603.50" y2="598.16" stroke="#F2F2F2" stroke-width="0.5" />
<line x1="359.30" y1="652.25" x2="603.50" y2="652.25" stroke="#F2F2F2" stroke-width="0.5" />
<line x1="359.30" y1="706.34" x2="603.50" y2="706.34" stroke="#F2F2F2" stroke-width="0.5" />
<line x1="383.60" y1="526.80" x2="383.60" y2="747.30" stroke="#F7F7F7" stroke-width="0.8" />
<line x1="383.60" y1="747.30" x2="383.60" y2="748.80" stroke="#888" stroke-width="0.6" />
<text x="383.60" y="751.90" font-size="4.6" text-anchor="middle" fill="#555" >0</text>
<line x1="460.36" y1="526.80" x2="460.36" y2="747.30" stroke="#F7F7F7" stroke-width="0.8" />
<line x1="460.36" y1="747.30" x2="460.36" y2="748.80" stroke="#888" stroke-width="0.6" />
<text x="460.36" y="751.90" font-size="4.6" text-anchor="middle" fill="#555" >4</text>
<line x1="537.12" y1="526.80" x2="537.12" y2="747.30" stroke="#F7F7F7" stroke-width="0.8" />
<line x1="537.12" y1="747.30" x2="537.12" y2="748.80" stroke="#888" stroke-width="0.6" />
<text x="537.12" y="751.90" font-size="4.6" text-anchor="middle" fill="#555" >8</text>
<line x1="359.30" y1="571.11" x2="603.50" y2="571.11" stroke="#F7F7F7" stroke-width="0.8" />
<line x1="357.80" y1="571.11" x2="359.30" y2="571.11" stroke="#888" stroke-width="0.6" />
<text x="357.30" y="572.71" font-size="4.6" text-anchor="end" fill="#555" >3</text>
<line x1="359.30" y1="625.20" x2="603.50" y2="625.20" stroke="#F7F7F7" stroke-width="0.8" />
<line x1="357.80" y1="625.20" x2="359.30" y2="625.20" stroke="#888" stroke-width="0.6" />
<text x="357.30" y="626.80" font-size="4.6" text-anchor="end" fill="#555" >0</text>
<line x1="359.30" y1="679.29" x2="603.50" y2="679.29" stroke="#F7F7F7" stroke-width="0.8" />
<line x1="357.80" y1="679.29" x2="359.30" y2="679.29" stroke="#888" stroke-width="0.6" />
<text x="357.30" y="680.89" font-size="4.6" text-anchor="end" fill="#555" >-3</text>
<line x1="359.30" y1="733.38" x2="603.50" y2="733.38" stroke="#F7F7F7" stroke-width="0.8" />
<line x1="357.80" y1="733.38" x2="359.30" y2="733.38" stroke="#888" stroke-width="0.6" />
<text x="357.30" y="734.98" font-size="4.6" text-anchor="end" fill="#555" >-6</text>
<text x="486.30" y="756.20" font-size="6.1" text-anchor="middle" fill="#222" >Dim1 (64%)</text>
<text x="352.80" y="631.20" font-size="6.1" text-anchor="middle" fill="#222" transform="rotate(-90 352.8 631.2)">Dim2 (32.2%)</text>
<polygon points="366.20,625.40 436.30,562.10 438.60,681.60" fill="#F8766D" fill-opacity="0.2" stroke="#F8766D" stroke-width="0.75" stroke-linejoin="round"/>
<polygon points="457.50,536.50 494.70,542.50 521.40,548.20 592.40,736.60 501.20,688.60 464.90,674.30 453.30,666.30 445.70,650.90" fill="#00BFC4" fill-opacity="0.2" stroke="#00BFC4" stroke-width="0.8" stroke-linejoin="round"/>
<path d="M456.40,537.40 L458.60,537.40 L457.50,535.40Z" fill="#00BFC4"/>
<text x="458.00" y="534.90" font-size="2.6" fill="#00BFC4" fill-opacity="0.6" text-anchor="middle">G1.1</text>
<path d="M493.60,543.40 L495.80,543.40 L494.70,541.40Z" fill="#00BFC4"/>
<text x="495.20" y="540.90" font-size="2.6" fill="#00BFC4" fill-opacity="0.6" text-anchor="middle">G1.1</text>
<path d="M520.30,549.10 L522.50,549.10 L521.40,547.10Z" fill="#00BFC4"/>
<text x="521.90" y="546.60" font-size="2.6" fill="#00BFC4" fill-opacity="0.6" text-anchor="middle">G1.1</text>
<path d="M591.30,737.50 L593.50,737.50 L592.40,735.50Z" fill="#00BFC4"/>
<text x="592.90" y="735.00" font-size="2.6" fill="#00BFC4" fill-opacity="0.6" text-anchor="middle">G1.1</text>
<path d="M500.10,689.50 L502.30,689.50 L501.20,687.50Z" fill="#00BFC4"/>
<text x="501.70" y="687.00" font-size="2.6" fill="#00BFC4" fill-opacity="0.6" text-anchor="middle">G1.1</text>
<path d="M463.80,675.20 L466.00,675.20 L464.90,673.20Z" fill="#00BFC4"/>
<text x="465.40" y="672.70" font-size="2.6" fill="#00BFC4" fill-opacity="0.6" text-anchor="middle">G1.1</text>
<path d="M452.20,667.20 L454.40,667.20 L453.30,665.20Z" fill="#00BFC4"/>
<text x="453.80" y="664.70" font-size="2.6" fill="#00BFC4" fill-opacity="0.6" text-anchor="middle">G1.1</text>
<path d="M444.60,651.80 L446.80,651.80 L445.70,649.80Z" fill="#00BFC4"/>
<text x="446.20" y="649.30" font-size="2.6" fill="#00BFC4" fill-opacity="0.6" text-anchor="middle">G1.1</text>
<path d="M485.50,565.90 L487.70,565.90 L486.60,563.90Z" fill="#00BFC4"/>
<text x="487.10" y="563.40" font-size="2.6" fill="#00BFC4" fill-opacity="0.6" text-anchor="middle">G1.1</text>
<path d="M488.6,625.0 L493.4,625.0 L491,621.0Z" fill="#00BFC4"/>
<circle cx="436.30" cy="562.20" r="0.85" fill="#F8766D" fill-opacity="0.6"/>
<circle cx="413.00" cy="586.30" r="0.85" fill="#F8766D" fill-opacity="0.6"/>
<circle cx="424.50" cy="588.80" r="0.85" fill="#F8766D" fill-opacity="0.6"/>
<circle cx="406.40" cy="591.00" r="0.85" fill="#F8766D" fill-opacity="0.6"/>
<circle cx="404.50" cy="592.00" r="0.85" fill="#F8766D" fill-opacity="0.6"/>
<circle cx="407.90" cy="591.50" r="0.85" fill="#F8766D" fill-opacity="0.6"/>
<circle cx="406.00" cy="592.50" r="0.85" fill="#F8766D" fill-opacity="0.6"/>
<circle cx="404.50" cy="599.00" r="0.85" fill="#F8766D" fill-opacity="0.6"/>
<circle cx="410.80" cy="600.70" r="0.85" fill="#F8766D" fill-opacity="0.6"/>
<circle cx="419.20" cy="601.90" r="0.85" fill="#F8766D" fill-opacity="0.6"/>
<circle cx="404.50" cy="605.00" r="0.85" fill="#F8766D" fill-opacity="0.6"/>
<circle cx="406.00" cy="607.40" r="0.85" fill="#F8766D" fill-opacity="0.6"/>
<circle cx="403.60" cy="609.30" r="0.85" fill="#F8766D" fill-opacity="0.6"/>
<circle cx="391.30" cy="604.50" r="0.85" fill="#F8766D" fill-opacity="0.6"/>
<circle cx="389.60" cy="610.30" r="0.85" fill="#F8766D" fill-opacity="0.6"/>
<circle cx="395.90" cy="609.80" r="0.85" fill="#F8766D" fill-opacity="0.6"/>
<circle cx="398.30" cy="612.70" r="0.85" fill="#F8766D" fill-opacity="0.6"/>
<circle cx="438.60" cy="681.60" r="0.85" fill="#F8766D" fill-opacity="0.6"/>
<circle cx="420.00" cy="640.00" r="0.85" fill="#F8766D" fill-opacity="0.6"/>
<circle cx="424.00" cy="642.00" r="0.85" fill="#F8766D" fill-opacity="0.6"/>
<circle cx="416.00" cy="648.00" r="0.85" fill="#F8766D" fill-opacity="0.6"/>
<circle cx="411.00" cy="650.00" r="0.85" fill="#F8766D" fill-opacity="0.6"/>
<circle cx="405.00" cy="652.00" r="0.85" fill="#F8766D" fill-opacity="0.6"/>
<circle cx="415.00" cy="635.00" r="0.85" fill="#F8766D" fill-opacity="0.6"/>
<circle cx="420.00" cy="660.00" r="0.85" fill="#F8766D" fill-opacity="0.6"/>
<circle cx="421.00" cy="662.00" r="0.85" fill="#F8766D" fill-opacity="0.6"/>
<circle cx="426.00" cy="670.00" r="0.85" fill="#F8766D" fill-opacity="0.6"/>
<circle cx="408.00" cy="645.00" r="0.85" fill="#F8766D" fill-opacity="0.6"/>
<circle cx="396.00" cy="640.00" r="0.85" fill="#F8766D" fill-opacity="0.6"/>
<circle cx="379.40" cy="618.65" r="0.85" fill="#F8766D" fill-opacity="0.6"/>
<circle cx="381.12" cy="615.40" r="0.85" fill="#F8766D" fill-opacity="0.6"/>
<circle cx="371.23" cy="623.16" r="0.85" fill="#F8766D" fill-opacity="0.6"/>
<circle cx="370.20" cy="623.71" r="0.85" fill="#F8766D" fill-opacity="0.6"/>
<circle cx="369.53" cy="622.65" r="0.85" fill="#F8766D" fill-opacity="0.6"/>
<circle cx="417.34" cy="645.63" r="0.85" fill="#F8766D" fill-opacity="0.6"/>
<circle cx="386.38" cy="610.11" r="0.85" fill="#F8766D" fill-opacity="0.6"/>
<circle cx="369.58" cy="623.25" r="0.85" fill="#F8766D" fill-opacity="0.6"/>
<circle cx="371.53" cy="621.29" r="0.85" fill="#F8766D" fill-opacity="0.6"/>
<circle cx="379.34" cy="617.28" r="0.85" fill="#F8766D" fill-opacity="0.6"/>
<circle cx="390.52" cy="613.10" r="0.85" fill="#F8766D" fill-opacity="0.6"/>
<circle cx="390.73" cy="609.82" r="0.85" fill="#F8766D" fill-opacity="0.6"/>
<circle cx="431.36" cy="631.10" r="0.85" fill="#F8766D" fill-opacity="0.6"/>
<circle cx="391.64" cy="604.41" r="0.85" fill="#F8766D" fill-opacity="0.6"/>
<circle cx="369.84" cy="623.34" r="0.85" fill="#F8766D" fill-opacity="0.6"/>
<circle cx="378.09" cy="622.36" r="0.85" fill="#F8766D" fill-opacity="0.6"/>
<circle cx="410.97" cy="610.91" r="0.85" fill="#F8766D" fill-opacity="0.6"/>
<circle cx="371.98" cy="627.00" r="0.85" fill="#F8766D" fill-opacity="0.6"/>
<circle cx="424.38" cy="600.33" r="0.85" fill="#F8766D" fill-opacity="0.6"/>
<circle cx="399.81" cy="604.19" r="0.85" fill="#F8766D" fill-opacity="0.6"/>
<circle cx="370.28" cy="624.07" r="0.85" fill="#F8766D" fill-opacity="0.6"/>
<circle cx="369.90" cy="622.74" r="0.85" fill="#F8766D" fill-opacity="0.6"/>
<circle cx="369.65" cy="622.66" r="0.85" fill="#F8766D" fill-opacity="0.6"/>
<circle cx="384.11" cy="613.94" r="0.85" fill="#F8766D" fill-opacity="0.6"/>
<circle cx="371.19" cy="622.82" r="0.85" fill="#F8766D" fill-opacity="0.6"/>
<circle cx="370.28" cy="623.39" r="0.85" fill="#F8766D" fill-opacity="0.6"/>
<circle cx="372.02" cy="623.71" r="0.85" fill="#F8766D" fill-opacity="0.6"/>
<circle cx="374.66" cy="626.43" r="0.85" fill="#F8766D" fill-opacity="0.6"/>
<circle cx="375.86" cy="618.28" r="0.85" fill="#F8766D" fill-opacity="0.6"/>
<circle cx="389.58" cy="611.17" r="0.85" fill="#F8766D" fill-opacity="0.6"/>
<circle cx="371.65" cy="620.77" r="0.85" fill="#F8766D" fill-opacity="0.6"/>
<circle cx="373.82" cy="619.95" r="0.85" fill="#F8766D" fill-opacity="0.6"/>
<circle cx="384.17" cy="611.21" r="0.85" fill="#F8766D" fill-opacity="0.6"/>
<circle cx="390.26" cy="622.40" r="0.85" fill="#F8766D" fill-opacity="0.6"/>
<circle cx="380.42" cy="616.94" r="0.85" fill="#F8766D" fill-opacity="0.6"/>
<circle cx="411.30" cy="605.64" r="0.85" fill="#F8766D" fill-opacity="0.6"/>
<circle cx="408.38" cy="613.48" r="0.85" fill="#F8766D" fill-opacity="0.6"/>
<circle cx="370.93" cy="622.40" r="0.85" fill="#F8766D" fill-opacity="0.6"/>
<circle cx="417.91" cy="644.14" r="0.85" fill="#F8766D" fill-opacity="0.6"/>
<circle cx="376.71" cy="617.30" r="0.85" fill="#F8766D" fill-opacity="0.6"/>
<circle cx="370.21" cy="625.95" r="0.85" fill="#F8766D" fill-opacity="0.6"/>
<circle cx="393.75" cy="607.80" r="0.85" fill="#F8766D" fill-opacity="0.6"/>
<circle cx="373.66" cy="622.06" r="0.85" fill="#F8766D" fill-opacity="0.6"/>
<circle cx="392.88" cy="604.12" r="0.85" fill="#F8766D" fill-opacity="0.6"/>
<circle cx="409.97" cy="606.60" r="0.85" fill="#F8766D" fill-opacity="0.6"/>
<circle cx="373.92" cy="626.31" r="0.85" fill="#F8766D" fill-opacity="0.6"/>
<circle cx="369.43" cy="623.03" r="0.85" fill="#F8766D" fill-opacity="0.6"/>
<circle cx="370.35" cy="622.00" r="0.85" fill="#F8766D" fill-opacity="0.6"/>
<circle cx="386.75" cy="617.13" r="0.85" fill="#F8766D" fill-opacity="0.6"/>
<circle cx="426.28" cy="605.24" r="0.85" fill="#F8766D" fill-opacity="0.6"/>
<circle cx="390.82" cy="605.73" r="0.85" fill="#F8766D" fill-opacity="0.6"/>
<circle cx="369.89" cy="626.97" r="0.85" fill="#F8766D" fill-opacity="0.6"/>
<circle cx="414.22" cy="587.73" r="0.85" fill="#F8766D" fill-opacity="0.6"/>
<circle cx="386.97" cy="608.27" r="0.85" fill="#F8766D" fill-opacity="0.6"/>
<circle cx="423.95" cy="593.62" r="0.85" fill="#F8766D" fill-opacity="0.6"/>
<circle cx="385.04" cy="617.61" r="0.85" fill="#F8766D" fill-opacity="0.6"/>
<circle cx="395.11" cy="610.30" r="0.85" fill="#F8766D" fill-opacity="0.6"/>
<circle cx="414.27" cy="598.68" r="0.85" fill="#F8766D" fill-opacity="0.6"/>
<circle cx="414.62" cy="613.90" r="0.85" fill="#F8766D" fill-opacity="0.6"/>
<circle cx="403.80" cy="609.12" r="0.85" fill="#F8766D" fill-opacity="0.6"/>
<circle cx="375.90" cy="619.26" r="0.85" fill="#F8766D" fill-opacity="0.6"/>
<circle cx="390.41" cy="619.98" r="0.85" fill="#F8766D" fill-opacity="0.6"/>
<circle cx="416.60" cy="619.24" r="0.85" fill="#F8766D" fill-opacity="0.6"/>
<circle cx="376.59" cy="619.92" r="0.85" fill="#F8766D" fill-opacity="0.6"/>
<circle cx="404.55" cy="599.87" r="0.85" fill="#F8766D" fill-opacity="0.6"/>
<circle cx="398.79" cy="608.00" r="0.85" fill="#F8766D" fill-opacity="0.6"/>
<circle cx="371.70" cy="622.03" r="0.85" fill="#F8766D" fill-opacity="0.6"/>
<circle cx="380.97" cy="616.33" r="0.85" fill="#F8766D" fill-opacity="0.6"/>
<circle cx="369.45" cy="623.06" r="0.85" fill="#F8766D" fill-opacity="0.6"/>
<circle cx="393.44" cy="611.95" r="0.85" fill="#F8766D" fill-opacity="0.6"/>
<circle cx="394.15" cy="618.24" r="0.85" fill="#F8766D" fill-opacity="0.6"/>
<circle cx="408.25" cy="594.50" r="0.85" fill="#F8766D" fill-opacity="0.6"/>
<circle cx="377.72" cy="617.93" r="0.85" fill="#F8766D" fill-opacity="0.6"/>
<circle cx="419.76" cy="637.46" r="0.85" fill="#F8766D" fill-opacity="0.6"/>
<circle cx="386.00" cy="613.85" r="0.85" fill="#F8766D" fill-opacity="0.6"/>
<circle cx="406.52" cy="603.40" r="0.85" fill="#F8766D" fill-opacity="0.6"/>
<circle cx="399.07" cy="630.69" r="0.85" fill="#F8766D" fill-opacity="0.6"/>
<circle cx="370.25" cy="622.07" r="0.85" fill="#F8766D" fill-opacity="0.6"/>
<circle cx="377.22" cy="618.67" r="0.85" fill="#F8766D" fill-opacity="0.6"/>
<circle cx="382.31" cy="619.56" r="0.85" fill="#F8766D" fill-opacity="0.6"/>
<circle cx="380.91" cy="623.50" r="0.85" fill="#F8766D" fill-opacity="0.6"/>
<circle cx="369.99" cy="624.04" r="0.85" fill="#F8766D" fill-opacity="0.6"/>
<circle cx="384.18" cy="612.65" r="0.85" fill="#F8766D" fill-opacity="0.6"/>
<circle cx="401.45" cy="604.33" r="0.85" fill="#F8766D" fill-opacity="0.6"/>
<circle cx="369.70" cy="623.43" r="0.85" fill="#F8766D" fill-opacity="0.6"/>
<circle cx="372.33" cy="622.91" r="0.85" fill="#F8766D" fill-opacity="0.6"/>
<circle cx="378.05" cy="617.02" r="0.85" fill="#F8766D" fill-opacity="0.6"/>
<circle cx="392.85" cy="615.46" r="0.85" fill="#F8766D" fill-opacity="0.6"/>
<circle cx="370.91" cy="622.04" r="0.85" fill="#F8766D" fill-opacity="0.6"/>
<circle cx="371.30" cy="623.62" r="0.85" fill="#F8766D" fill-opacity="0.6"/>
<circle cx="370.51" cy="622.13" r="0.85" fill="#F8766D" fill-opacity="0.6"/>
<circle cx="375.48" cy="621.68" r="0.85" fill="#F8766D" fill-opacity="0.6"/>
<circle cx="395.56" cy="602.03" r="0.85" fill="#F8766D" fill-opacity="0.6"/>
<circle cx="407.26" cy="627.46" r="0.85" fill="#F8766D" fill-opacity="0.6"/>
<circle cx="415.49" cy="596.42" r="0.85" fill="#F8766D" fill-opacity="0.6"/>
<circle cx="391.68" cy="631.02" r="0.85" fill="#F8766D" fill-opacity="0.6"/>
<circle cx="385.22" cy="614.51" r="0.85" fill="#F8766D" fill-opacity="0.6"/>
<circle cx="406.34" cy="636.38" r="0.85" fill="#F8766D" fill-opacity="0.6"/>
<circle cx="388.83" cy="608.68" r="0.85" fill="#F8766D" fill-opacity="0.6"/>
<circle cx="392.56" cy="618.07" r="0.85" fill="#F8766D" fill-opacity="0.6"/>
<circle cx="371.33" cy="628.65" r="0.85" fill="#F8766D" fill-opacity="0.6"/>
<circle cx="415.89" cy="586.74" r="0.85" fill="#F8766D" fill-opacity="0.6"/>
<circle cx="413.72" cy="598.95" r="0.85" fill="#F8766D" fill-opacity="0.6"/>
<circle cx="375.39" cy="621.21" r="0.85" fill="#F8766D" fill-opacity="0.6"/>
<circle cx="398.07" cy="603.43" r="0.85" fill="#F8766D" fill-opacity="0.6"/>
<circle cx="370.03" cy="624.16" r="0.85" fill="#F8766D" fill-opacity="0.6"/>
<circle cx="370.74" cy="622.65" r="0.85" fill="#F8766D" fill-opacity="0.6"/>
<circle cx="401.10" cy="604.46" r="0.85" fill="#F8766D" fill-opacity="0.6"/>
<circle cx="396.76" cy="609.54" r="0.85" fill="#F8766D" fill-opacity="0.6"/>
<circle cx="396.30" cy="634.18" r="0.85" fill="#F8766D" fill-opacity="0.6"/>
<circle cx="412.95" cy="588.95" r="0.85" fill="#F8766D" fill-opacity="0.6"/>
<circle cx="373.57" cy="622.10" r="0.85" fill="#F8766D" fill-opacity="0.6"/>
<circle cx="389.45" cy="611.41" r="0.85" fill="#F8766D" fill-opacity="0.6"/>
<circle cx="374.08" cy="621.54" r="0.85" fill="#F8766D" fill-opacity="0.6"/>
<circle cx="412.70" cy="631.00" r="0.85" fill="#F8766D" fill-opacity="0.6"/>
<circle cx="411.50" cy="639.51" r="0.85" fill="#F8766D" fill-opacity="0.6"/>
<circle cx="386.35" cy="616.06" r="0.85" fill="#F8766D" fill-opacity="0.6"/>
<circle cx="385.72" cy="610.53" r="0.85" fill="#F8766D" fill-opacity="0.6"/>
<circle cx="424.15" cy="603.63" r="0.85" fill="#F8766D" fill-opacity="0.6"/>
<circle cx="385.49" cy="615.87" r="0.85" fill="#F8766D" fill-opacity="0.6"/>
<circle cx="394.27" cy="611.12" r="0.85" fill="#F8766D" fill-opacity="0.6"/>
<circle cx="420.54" cy="633.89" r="0.85" fill="#F8766D" fill-opacity="0.6"/>
<circle cx="378.85" cy="615.69" r="0.85" fill="#F8766D" fill-opacity="0.6"/>
<circle cx="378.43" cy="618.87" r="0.85" fill="#F8766D" fill-opacity="0.6"/>
<circle cx="373.82" cy="620.69" r="0.85" fill="#F8766D" fill-opacity="0.6"/>
<circle cx="391.63" cy="627.30" r="0.85" fill="#F8766D" fill-opacity="0.6"/>
<circle cx="397.77" cy="601.14" r="0.85" fill="#F8766D" fill-opacity="0.6"/>
<circle cx="392.74" cy="609.10" r="0.85" fill="#F8766D" fill-opacity="0.6"/>
<circle cx="375.74" cy="621.34" r="0.85" fill="#F8766D" fill-opacity="0.6"/>
<circle cx="370.31" cy="623.30" r="0.85" fill="#F8766D" fill-opacity="0.6"/>
<circle cx="372.43" cy="622.32" r="0.85" fill="#F8766D" fill-opacity="0.6"/>
<circle cx="375.00" cy="618.48" r="0.85" fill="#F8766D" fill-opacity="0.6"/>
<circle cx="381.93" cy="614.22" r="0.85" fill="#F8766D" fill-opacity="0.6"/>
<circle cx="391.32" cy="615.23" r="0.85" fill="#F8766D" fill-opacity="0.6"/>
<circle cx="405.27" cy="598.38" r="0.85" fill="#F8766D" fill-opacity="0.6"/>
<circle cx="396.42" cy="605.76" r="0.85" fill="#F8766D" fill-opacity="0.6"/>
<circle cx="413.25" cy="599.94" r="0.85" fill="#F8766D" fill-opacity="0.6"/>
<circle cx="371.59" cy="628.42" r="0.85" fill="#F8766D" fill-opacity="0.6"/>
<circle cx="370.84" cy="624.42" r="0.85" fill="#F8766D" fill-opacity="0.6"/>
<circle cx="398.95" cy="613.92" r="0.85" fill="#F8766D" fill-opacity="0.6"/>
<circle cx="378.14" cy="619.61" r="0.85" fill="#F8766D" fill-opacity="0.6"/>
<circle cx="369.77" cy="622.41" r="0.85" fill="#F8766D" fill-opacity="0.6"/>
<circle cx="370.75" cy="621.77" r="0.85" fill="#F8766D" fill-opacity="0.6"/>
<circle cx="420.63" cy="629.02" r="0.85" fill="#F8766D" fill-opacity="0.6"/>
<circle cx="382.99" cy="619.39" r="0.85" fill="#F8766D" fill-opacity="0.6"/>
<circle cx="370.44" cy="621.76" r="0.85" fill="#F8766D" fill-opacity="0.6"/>
<circle cx="370.23" cy="623.52" r="0.85" fill="#F8766D" fill-opacity="0.6"/>
<circle cx="384.01" cy="612.63" r="0.85" fill="#F8766D" fill-opacity="0.6"/>
<circle cx="371.43" cy="623.69" r="0.85" fill="#F8766D" fill-opacity="0.6"/>
<circle cx="422.45" cy="620.44" r="0.85" fill="#F8766D" fill-opacity="0.6"/>
<circle cx="370.19" cy="626.49" r="0.85" fill="#F8766D" fill-opacity="0.6"/>
<circle cx="401.11" cy="609.48" r="0.85" fill="#F8766D" fill-opacity="0.6"/>
<circle cx="377.05" cy="617.06" r="0.85" fill="#F8766D" fill-opacity="0.6"/>
<circle cx="369.44" cy="623.04" r="0.85" fill="#F8766D" fill-opacity="0.6"/>
<circle cx="378.61" cy="617.14" r="0.85" fill="#F8766D" fill-opacity="0.6"/>
<circle cx="376.75" cy="618.69" r="0.85" fill="#F8766D" fill-opacity="0.6"/>
<circle cx="369.79" cy="627.18" r="0.85" fill="#F8766D" fill-opacity="0.6"/>
<circle cx="395.46" cy="610.78" r="0.85" fill="#F8766D" fill-opacity="0.6"/>
<circle cx="389.59" cy="613.19" r="0.85" fill="#F8766D" fill-opacity="0.6"/>
<circle cx="420.61" cy="592.34" r="0.85" fill="#F8766D" fill-opacity="0.6"/>
<circle cx="372.71" cy="628.37" r="0.85" fill="#F8766D" fill-opacity="0.6"/>
<circle cx="404.30" cy="614.28" r="0.85" fill="#F8766D" fill-opacity="0.6"/>
<circle cx="412.47" cy="604.47" r="0.85" fill="#F8766D" fill-opacity="0.6"/>
<circle cx="401.90" cy="610.69" r="0.85" fill="#F8766D" fill-opacity="0.6"/>
<circle cx="369.88" cy="623.41" r="0.85" fill="#F8766D" fill-opacity="0.6"/>
<circle cx="379.98" cy="617.86" r="0.85" fill="#F8766D" fill-opacity="0.6"/>
<circle cx="389.69" cy="614.32" r="0.85" fill="#F8766D" fill-opacity="0.6"/>
<circle cx="416.92" cy="595.85" r="0.85" fill="#F8766D" fill-opacity="0.6"/>
<circle cx="386.35" cy="616.64" r="0.85" fill="#F8766D" fill-opacity="0.6"/>
<circle cx="377.20" cy="629.66" r="0.85" fill="#F8766D" fill-opacity="0.6"/>
<circle cx="391.73" cy="605.45" r="0.85" fill="#F8766D" fill-opacity="0.6"/>
<circle cx="385.41" cy="608.92" r="0.85" fill="#F8766D" fill-opacity="0.6"/>
<circle cx="372.22" cy="621.61" r="0.85" fill="#F8766D" fill-opacity="0.6"/>
<circle cx="375.01" cy="618.49" r="0.85" fill="#F8766D" fill-opacity="0.6"/>
<circle cx="372.81" cy="627.57" r="0.85" fill="#F8766D" fill-opacity="0.6"/>
<circle cx="383.21" cy="631.17" r="0.85" fill="#F8766D" fill-opacity="0.6"/>
<circle cx="417.00" cy="584.32" r="0.85" fill="#F8766D" fill-opacity="0.6"/>
<circle cx="385.64" cy="611.37" r="0.85" fill="#F8766D" fill-opacity="0.6"/>
<circle cx="370.25" cy="625.77" r="0.85" fill="#F8766D" fill-opacity="0.6"/>
<circle cx="380.94" cy="619.51" r="0.85" fill="#F8766D" fill-opacity="0.6"/>
<circle cx="370.20" cy="626.39" r="0.85" fill="#F8766D" fill-opacity="0.6"/>
<circle cx="380.76" cy="612.98" r="0.85" fill="#F8766D" fill-opacity="0.6"/>
<circle cx="375.44" cy="619.86" r="0.85" fill="#F8766D" fill-opacity="0.6"/>
<circle cx="373.27" cy="621.93" r="0.85" fill="#F8766D" fill-opacity="0.6"/>
<circle cx="372.45" cy="620.00" r="0.85" fill="#F8766D" fill-opacity="0.6"/>
<circle cx="370.24" cy="622.37" r="0.85" fill="#F8766D" fill-opacity="0.6"/>
<circle cx="376.93" cy="630.33" r="0.85" fill="#F8766D" fill-opacity="0.6"/>
<circle cx="369.70" cy="627.51" r="0.85" fill="#F8766D" fill-opacity="0.6"/>
<circle cx="370.27" cy="626.43" r="0.85" fill="#F8766D" fill-opacity="0.6"/>
<circle cx="382.24" cy="627.67" r="0.85" fill="#F8766D" fill-opacity="0.6"/>
<circle cx="383.50" cy="633.05" r="0.85" fill="#F8766D" fill-opacity="0.6"/>
<circle cx="380.18" cy="632.51" r="0.85" fill="#F8766D" fill-opacity="0.6"/>
<circle cx="387.34" cy="613.18" r="0.85" fill="#F8766D" fill-opacity="0.6"/>
<circle cx="371.28" cy="622.45" r="0.85" fill="#F8766D" fill-opacity="0.6"/>
<circle cx="384.08" cy="618.34" r="0.85" fill="#F8766D" fill-opacity="0.6"/>
<circle cx="378.68" cy="617.08" r="0.85" fill="#F8766D" fill-opacity="0.6"/>
<circle cx="384.22" cy="611.33" r="0.85" fill="#F8766D" fill-opacity="0.6"/>
<circle cx="416.35" cy="647.97" r="0.85" fill="#F8766D" fill-opacity="0.6"/>
<circle cx="372.27" cy="622.69" r="0.85" fill="#F8766D" fill-opacity="0.6"/>
<circle cx="410.72" cy="597.95" r="0.85" fill="#F8766D" fill-opacity="0.6"/>
<circle cx="372.60" cy="621.45" r="0.85" fill="#F8766D" fill-opacity="0.6"/>
<circle cx="385.77" cy="616.15" r="0.85" fill="#F8766D" fill-opacity="0.6"/>
<circle cx="371.33" cy="623.16" r="0.85" fill="#F8766D" fill-opacity="0.6"/>
<circle cx="414.30" cy="652.06" r="0.85" fill="#F8766D" fill-opacity="0.6"/>
<circle cx="369.34" cy="622.85" r="0.85" fill="#F8766D" fill-opacity="0.6"/>
<circle cx="389.42" cy="613.88" r="0.85" fill="#F8766D" fill-opacity="0.6"/>
<circle cx="384.69" cy="617.55" r="0.85" fill="#F8766D" fill-opacity="0.6"/>
<circle cx="384.09" cy="615.02" r="0.85" fill="#F8766D" fill-opacity="0.6"/>
<circle cx="374.96" cy="618.59" r="0.85" fill="#F8766D" fill-opacity="0.6"/>
<circle cx="398.20" cy="607.99" r="0.85" fill="#F8766D" fill-opacity="0.6"/>
<circle cx="369.69" cy="623.06" r="0.85" fill="#F8766D" fill-opacity="0.6"/>
<circle cx="401.94" cy="610.40" r="0.85" fill="#F8766D" fill-opacity="0.6"/>
<circle cx="377.04" cy="617.51" r="0.85" fill="#F8766D" fill-opacity="0.6"/>
<circle cx="394.04" cy="630.68" r="0.85" fill="#F8766D" fill-opacity="0.6"/>
<circle cx="384.26" cy="615.59" r="0.85" fill="#F8766D" fill-opacity="0.6"/>
<circle cx="410.87" cy="592.11" r="0.85" fill="#F8766D" fill-opacity="0.6"/>
<circle cx="406.65" cy="595.61" r="0.85" fill="#F8766D" fill-opacity="0.6"/>
<circle cx="370.21" cy="623.96" r="0.85" fill="#F8766D" fill-opacity="0.6"/>
<circle cx="372.69" cy="620.15" r="0.85" fill="#F8766D" fill-opacity="0.6"/>
<circle cx="369.52" cy="622.81" r="0.85" fill="#F8766D" fill-opacity="0.6"/>
<circle cx="373.08" cy="620.39" r="0.85" fill="#F8766D" fill-opacity="0.6"/>
<circle cx="392.90" cy="608.20" r="0.85" fill="#F8766D" fill-opacity="0.6"/>
<circle cx="395.99" cy="607.71" r="0.85" fill="#F8766D" fill-opacity="0.6"/>
<circle cx="370.65" cy="624.41" r="0.85" fill="#F8766D" fill-opacity="0.6"/>
<circle cx="419.46" cy="639.13" r="0.85" fill="#F8766D" fill-opacity="0.6"/>
<circle cx="403.60" cy="605.70" r="0.85" fill="#F8766D" fill-opacity="0.6"/>
<circle cx="374.92" cy="623.27" r="0.85" fill="#F8766D" fill-opacity="0.6"/>
<circle cx="372.22" cy="622.04" r="0.85" fill="#F8766D" fill-opacity="0.6"/>
<circle cx="375.53" cy="620.01" r="0.85" fill="#F8766D" fill-opacity="0.6"/>
<circle cx="371.00" cy="622.33" r="0.85" fill="#F8766D" fill-opacity="0.6"/>
<circle cx="371.76" cy="629.54" r="0.85" fill="#F8766D" fill-opacity="0.6"/>
<circle cx="370.67" cy="621.70" r="0.85" fill="#F8766D" fill-opacity="0.6"/>
<circle cx="374.85" cy="624.44" r="0.85" fill="#F8766D" fill-opacity="0.6"/>
<circle cx="375.22" cy="622.45" r="0.85" fill="#F8766D" fill-opacity="0.6"/>
<circle cx="376.43" cy="622.64" r="0.85" fill="#F8766D" fill-opacity="0.6"/>
<circle cx="378.30" cy="621.86" r="0.85" fill="#F8766D" fill-opacity="0.6"/>
<circle cx="369.00" cy="624.59" r="0.85" fill="#F8766D" fill-opacity="0.6"/>
<circle cx="375.05" cy="626.53" r="0.85" fill="#F8766D" fill-opacity="0.6"/>
<circle cx="373.67" cy="628.74" r="0.85" fill="#F8766D" fill-opacity="0.6"/>
<circle cx="378.30" cy="622.93" r="0.85" fill="#F8766D" fill-opacity="0.6"/>
<circle cx="371.51" cy="625.93" r="0.85" fill="#F8766D" fill-opacity="0.6"/>
<circle cx="376.75" cy="622.68" r="0.85" fill="#F8766D" fill-opacity="0.6"/>
<circle cx="375.18" cy="623.99" r="0.85" fill="#F8766D" fill-opacity="0.6"/>
<circle cx="372.69" cy="621.81" r="0.85" fill="#F8766D" fill-opacity="0.6"/>
<circle cx="374.17" cy="618.32" r="0.85" fill="#F8766D" fill-opacity="0.6"/>
<circle cx="376.16" cy="622.38" r="0.85" fill="#F8766D" fill-opacity="0.6"/>
<circle cx="377.39" cy="622.91" r="0.85" fill="#F8766D" fill-opacity="0.6"/>
<circle cx="369.95" cy="624.82" r="0.85" fill="#F8766D" fill-opacity="0.6"/>
<circle cx="369.51" cy="625.42" r="0.85" fill="#F8766D" fill-opacity="0.6"/>
<circle cx="372.10" cy="624.99" r="0.85" fill="#F8766D" fill-opacity="0.6"/>
<circle cx="374.10" cy="627.43" r="0.85" fill="#F8766D" fill-opacity="0.6"/>
<circle cx="373.67" cy="625.41" r="0.85" fill="#F8766D" fill-opacity="0.6"/>
<circle cx="379.75" cy="619.60" r="0.85" fill="#F8766D" fill-opacity="0.6"/>
<circle cx="369.77" cy="624.21" r="0.85" fill="#F8766D" fill-opacity="0.6"/>
<circle cx="368.46" cy="626.24" r="0.85" fill="#F8766D" fill-opacity="0.6"/>
<circle cx="370.63" cy="622.28" r="0.85" fill="#F8766D" fill-opacity="0.6"/>
<circle cx="368.76" cy="626.63" r="0.85" fill="#F8766D" fill-opacity="0.6"/>
<circle cx="372.01" cy="629.45" r="0.85" fill="#F8766D" fill-opacity="0.6"/>
<circle cx="369.84" cy="628.23" r="0.85" fill="#F8766D" fill-opacity="0.6"/>
<circle cx="372.00" cy="622.02" r="0.85" fill="#F8766D" fill-opacity="0.6"/>
<circle cx="383.29" cy="621.01" r="0.85" fill="#F8766D" fill-opacity="0.6"/>
<circle cx="371.42" cy="624.09" r="0.85" fill="#F8766D" fill-opacity="0.6"/>
<circle cx="382.67" cy="626.63" r="0.85" fill="#F8766D" fill-opacity="0.6"/>
<circle cx="374.80" cy="623.01" r="0.85" fill="#F8766D" fill-opacity="0.6"/>
<circle cx="374.40" cy="624.09" r="0.85" fill="#F8766D" fill-opacity="0.6"/>
<circle cx="375.14" cy="628.70" r="0.85" fill="#F8766D" fill-opacity="0.6"/>
<circle cx="368.75" cy="625.65" r="0.85" fill="#F8766D" fill-opacity="0.6"/>
<circle cx="368.87" cy="626.45" r="0.85" fill="#F8766D" fill-opacity="0.6"/>
<circle cx="372.24" cy="620.45" r="0.85" fill="#F8766D" fill-opacity="0.6"/>
<circle cx="380.90" cy="614.71" r="0.85" fill="#F8766D" fill-opacity="0.6"/>
<circle cx="373.52" cy="629.09" r="0.85" fill="#F8766D" fill-opacity="0.6"/>
<circle cx="379.49" cy="623.86" r="0.85" fill="#F8766D" fill-opacity="0.6"/>
<circle cx="371.32" cy="625.29" r="0.85" fill="#F8766D" fill-opacity="0.6"/>
<circle cx="374.31" cy="624.33" r="0.85" fill="#F8766D" fill-opacity="0.6"/>
<circle cx="375.44" cy="622.41" r="0.85" fill="#F8766D" fill-opacity="0.6"/>
<circle cx="369.15" cy="622.97" r="0.85" fill="#F8766D" fill-opacity="0.6"/>
<circle cx="374.73" cy="622.55" r="0.85" fill="#F8766D" fill-opacity="0.6"/>
<circle cx="373.76" cy="629.80" r="0.85" fill="#F8766D" fill-opacity="0.6"/>
<circle cx="368.77" cy="626.84" r="0.85" fill="#F8766D" fill-opacity="0.6"/>
<circle cx="371.81" cy="625.29" r="0.85" fill="#F8766D" fill-opacity="0.6"/>
<circle cx="377.36" cy="625.03" r="0.85" fill="#F8766D" fill-opacity="0.6"/>
<circle cx="373.29" cy="628.27" r="0.85" fill="#F8766D" fill-opacity="0.6"/>
<circle cx="372.02" cy="626.15" r="0.85" fill="#F8766D" fill-opacity="0.6"/>
<circle cx="384.25" cy="626.16" r="0.85" fill="#F8766D" fill-opacity="0.6"/>
<circle cx="373.29" cy="624.09" r="0.85" fill="#F8766D" fill-opacity="0.6"/>
<circle cx="373.63" cy="622.15" r="0.85" fill="#F8766D" fill-opacity="0.6"/>
<circle cx="388.10" cy="624.57" r="0.85" fill="#F8766D" fill-opacity="0.6"/>
<circle cx="370.82" cy="621.70" r="0.85" fill="#F8766D" fill-opacity="0.6"/>
<circle cx="372.70" cy="627.13" r="0.85" fill="#F8766D" fill-opacity="0.6"/>
<circle cx="368.39" cy="627.09" r="0.85" fill="#F8766D" fill-opacity="0.6"/>
<circle cx="374.59" cy="627.33" r="0.85" fill="#F8766D" fill-opacity="0.6"/>
<circle cx="374.97" cy="622.15" r="0.85" fill="#F8766D" fill-opacity="0.6"/>
<circle cx="368.47" cy="625.11" r="0.85" fill="#F8766D" fill-opacity="0.6"/>
<circle cx="369.53" cy="627.29" r="0.85" fill="#F8766D" fill-opacity="0.6"/>
<circle cx="370.74" cy="625.26" r="0.85" fill="#F8766D" fill-opacity="0.6"/>
<circle cx="368.49" cy="625.43" r="0.85" fill="#F8766D" fill-opacity="0.6"/>
<circle cx="368.77" cy="624.62" r="0.85" fill="#F8766D" fill-opacity="0.6"/>
<circle cx="372.99" cy="621.88" r="0.85" fill="#F8766D" fill-opacity="0.6"/>
<circle cx="376.58" cy="623.40" r="0.85" fill="#F8766D" fill-opacity="0.6"/>
<circle cx="371.24" cy="626.04" r="0.85" fill="#F8766D" fill-opacity="0.6"/>
<circle cx="375.31" cy="627.24" r="0.85" fill="#F8766D" fill-opacity="0.6"/>
<circle cx="378.78" cy="623.04" r="0.85" fill="#F8766D" fill-opacity="0.6"/>
<circle cx="372.73" cy="624.20" r="0.85" fill="#F8766D" fill-opacity="0.6"/>
<circle cx="372.06" cy="628.41" r="0.85" fill="#F8766D" fill-opacity="0.6"/>
<circle cx="371.85" cy="626.09" r="0.85" fill="#F8766D" fill-opacity="0.6"/>
<circle cx="378.82" cy="623.41" r="0.85" fill="#F8766D" fill-opacity="0.6"/>
<circle cx="373.00" cy="629.24" r="0.85" fill="#F8766D" fill-opacity="0.6"/>
<circle cx="373.74" cy="621.06" r="0.85" fill="#F8766D" fill-opacity="0.6"/>
<circle cx="371.45" cy="627.38" r="0.85" fill="#F8766D" fill-opacity="0.6"/>
<circle cx="373.46" cy="628.47" r="0.85" fill="#F8766D" fill-opacity="0.6"/>
<circle cx="374.90" cy="623.42" r="0.85" fill="#F8766D" fill-opacity="0.6"/>
<circle cx="371.04" cy="625.22" r="0.85" fill="#F8766D" fill-opacity="0.6"/>
<circle cx="376.09" cy="621.08" r="0.85" fill="#F8766D" fill-opacity="0.6"/>
<circle cx="374.19" cy="631.48" r="0.85" fill="#F8766D" fill-opacity="0.6"/>
<circle cx="371.52" cy="627.04" r="0.85" fill="#F8766D" fill-opacity="0.6"/>
<circle cx="379.92" cy="631.00" r="0.85" fill="#F8766D" fill-opacity="0.6"/>
<circle cx="376.48" cy="629.99" r="0.85" fill="#F8766D" fill-opacity="0.6"/>
<text x="436.30" y="560.90" font-size="2.6" fill="#F8766D" fill-opacity="0.55" text-anchor="middle">SC.1</text>
<text x="413.00" y="585.00" font-size="2.6" fill="#F8766D" fill-opacity="0.55" text-anchor="middle">SC.1</text>
<text x="424.50" y="587.50" font-size="2.6" fill="#F8766D" fill-opacity="0.55" text-anchor="middle">SC.1</text>
<text x="406.40" y="589.70" font-size="2.6" fill="#F8766D" fill-opacity="0.55" text-anchor="middle">SC.1</text>
<text x="404.50" y="590.70" font-size="2.6" fill="#F8766D" fill-opacity="0.55" text-anchor="middle">SC.1</text>
<text x="407.90" y="590.20" font-size="2.6" fill="#F8766D" fill-opacity="0.55" text-anchor="middle">SC.1</text>
<text x="406.00" y="591.20" font-size="2.6" fill="#F8766D" fill-opacity="0.55" text-anchor="middle">SC.1</text>
<text x="404.50" y="597.70" font-size="2.6" fill="#F8766D" fill-opacity="0.55" text-anchor="middle">SC.1</text>
<text x="410.80" y="599.40" font-size="2.6" fill="#F8766D" fill-opacity="0.55" text-anchor="middle">SC.1</text>
<text x="419.20" y="600.60" font-size="2.6" fill="#F8766D" fill-opacity="0.55" text-anchor="middle">SC.1</text>
<text x="404.50" y="603.70" font-size="2.6" fill="#F8766D" fill-opacity="0.55" text-anchor="middle">SC.1</text>
<text x="406.00" y="606.10" font-size="2.6" fill="#F8766D" fill-opacity="0.55" text-anchor="middle">SC.1</text>
<text x="403.60" y="608.00" font-size="2.6" fill="#F8766D" fill-opacity="0.55" text-anchor="middle">SC.1</text>
<text x="391.30" y="603.20" font-size="2.6" fill="#F8766D" fill-opacity="0.55" text-anchor="middle">SC.1</text>
<text x="389.60" y="609.00" font-size="2.6" fill="#F8766D" fill-opacity="0.55" text-anchor="middle">SC.1</text>
<text x="395.90" y="608.50" font-size="2.6" fill="#F8766D" fill-opacity="0.55" text-anchor="middle">SC.1</text>
<text x="398.30" y="611.40" font-size="2.6" fill="#F8766D" fill-opacity="0.55" text-anchor="middle">SC.1</text>
<text x="438.60" y="680.30" font-size="2.6" fill="#F8766D" fill-opacity="0.55" text-anchor="middle">SC.1</text>
<text x="420.00" y="638.70" font-size="2.6" fill="#F8766D" fill-opacity="0.55" text-anchor="middle">SC.1</text>
<text x="424.00" y="640.70" font-size="2.6" fill="#F8766D" fill-opacity="0.55" text-anchor="middle">SC.1</text>
<text x="416.00" y="646.70" font-size="2.6" fill="#F8766D" fill-opacity="0.55" text-anchor="middle">SC.1</text>
<text x="411.00" y="648.70" font-size="2.6" fill="#F8766D" fill-opacity="0.55" text-anchor="middle">SC.1</text>
<text x="405.00" y="650.70" font-size="2.6" fill="#F8766D" fill-opacity="0.55" text-anchor="middle">SC.1</text>
<text x="415.00" y="633.70" font-size="2.6" fill="#F8766D" fill-opacity="0.55" text-anchor="middle">SC.1</text>
<text x="420.00" y="658.70" font-size="2.6" fill="#F8766D" fill-opacity="0.55" text-anchor="middle">SC.1</text>
<text x="421.00" y="660.70" font-size="2.6" fill="#F8766D" fill-opacity="0.55" text-anchor="middle">SC.1</text>
<text x="426.00" y="668.70" font-size="2.6" fill="#F8766D" fill-opacity="0.55" text-anchor="middle">SC.1</text>
<text x="408.00" y="643.70" font-size="2.6" fill="#F8766D" fill-opacity="0.55" text-anchor="middle">SC.1</text>
<text x="396.00" y="638.70" font-size="2.6" fill="#F8766D" fill-opacity="0.55" text-anchor="middle">SC.1</text>
<text x="609.20" y="631.60" font-size="6.0" text-anchor="start" fill="#222" >cluster</text>
<rect x="609.6" y="634.3" width="6.2" height="5.4" fill="#F8766D" fill-opacity="0.3" stroke="#F8766D" stroke-opacity="0.5" stroke-width="0.6"/>
<circle cx="612.70" cy="637.00" r="1.2" fill="#F8766D" />
<rect x="609.6" y="640.3" width="6.2" height="5.6" fill="#00BFC4" fill-opacity="0.3" stroke="#00BFC4" stroke-opacity="0.7" stroke-width="0.6"/>
<path d="M611.4,644.4 L614.0,644.4 L612.7,641.9Z" fill="#00BFC4"/>
<text x="618.10" y="638.90" font-size="5.0" text-anchor="start" fill="#333" >1</text>
<text x="618.10" y="645.20" font-size="5.0" text-anchor="start" fill="#333" >2</text>
</svg></body></html>
